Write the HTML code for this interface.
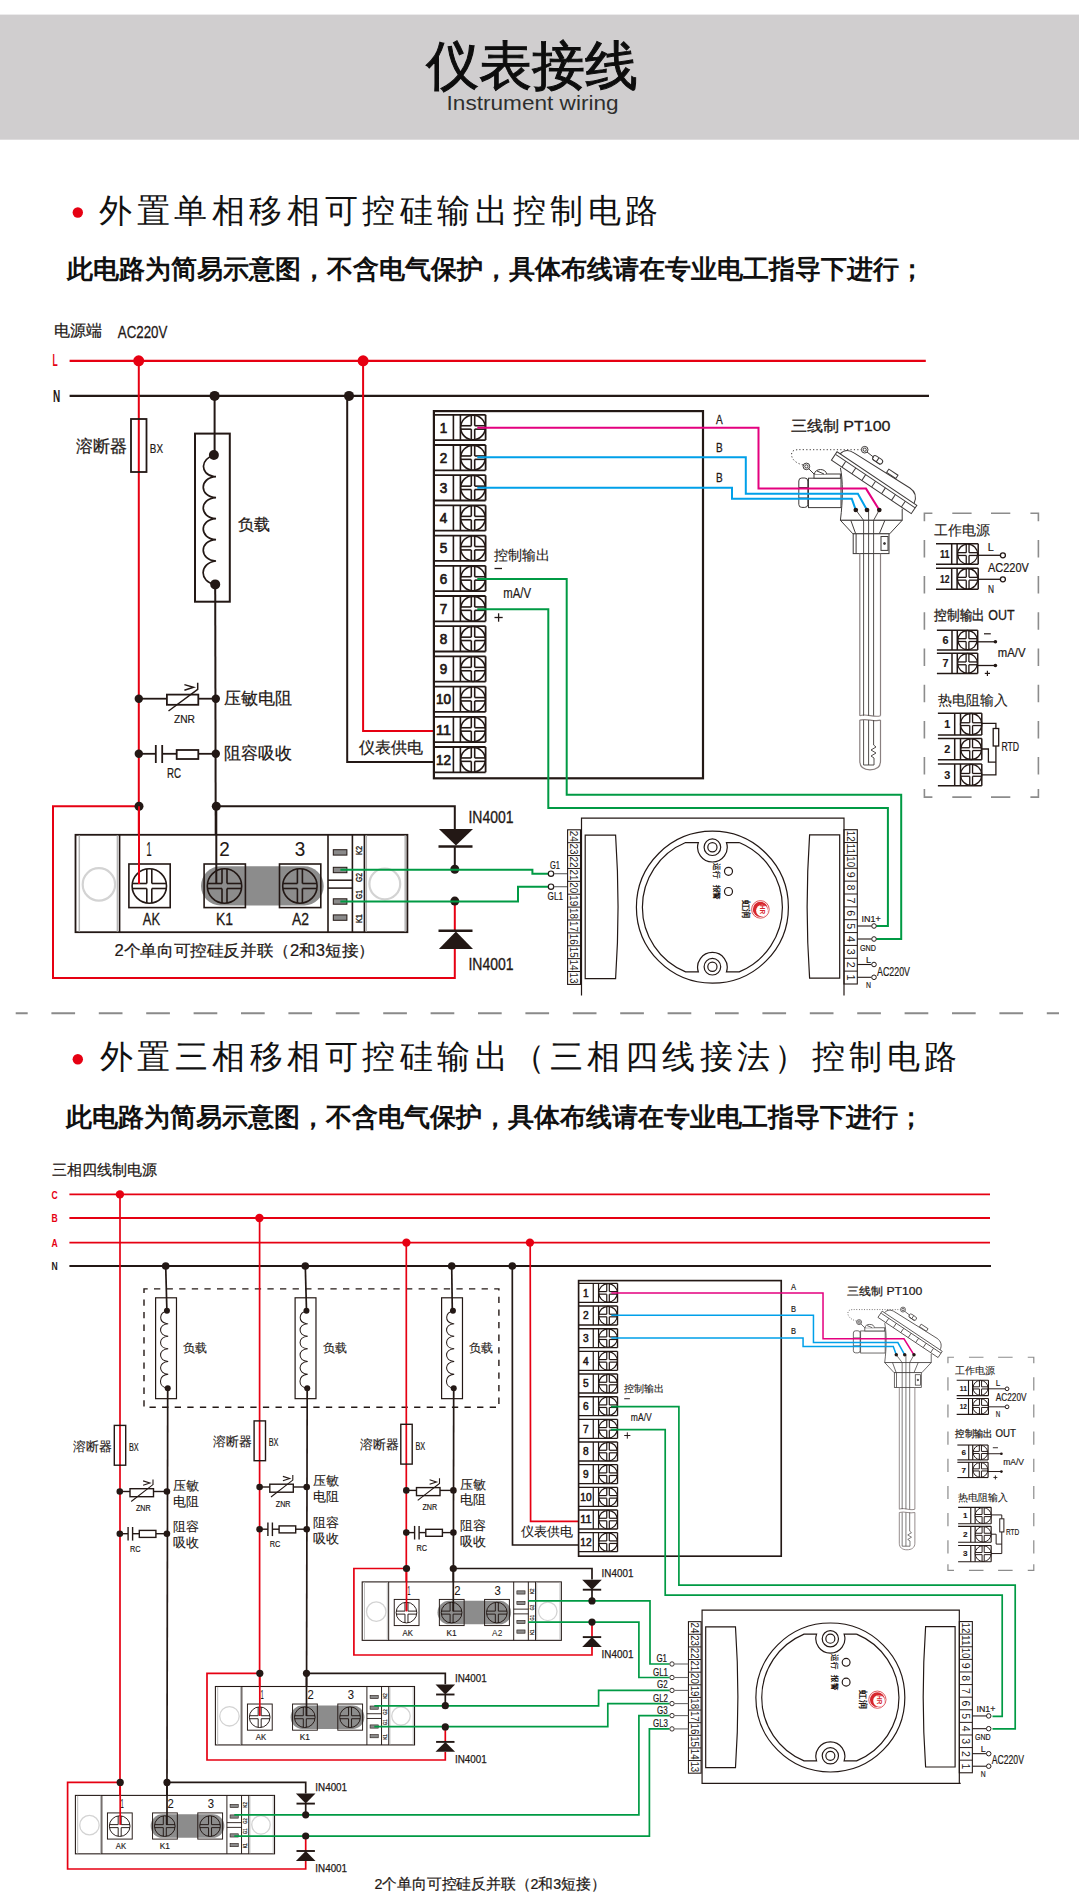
<!DOCTYPE html>
<html><head><meta charset="utf-8"><title>Instrument wiring</title>
<style>html,body{margin:0;padding:0;background:#fff;width:1080px;height:1904px;overflow:hidden}svg{display:block}text{font-family:"Liberation Sans",sans-serif}</style>
</head><body>
<svg width="1080" height="1904" viewBox="0 0 1080 1904" font-family="Liberation Sans, sans-serif">
<defs>
<g id="ctrl">
<rect x="433.90" y="411.10" width="269.10" height="367.20" fill="none" stroke="#231815" stroke-width="2.2" />
<line x1="433.90" y1="414.80" x2="485.60" y2="414.80" stroke="#231815" stroke-width="1.8" />
<line x1="433.90" y1="440.10" x2="485.60" y2="440.10" stroke="#231815" stroke-width="1.8" />
<line x1="453.40" y1="414.80" x2="453.40" y2="440.10" stroke="#231815" stroke-width="1.6" />
<line x1="460.40" y1="414.80" x2="460.40" y2="440.10" stroke="#231815" stroke-width="1.6" />
<line x1="485.60" y1="414.80" x2="485.60" y2="440.10" stroke="#231815" stroke-width="1.8" />
<circle cx="473.00" cy="427.45" r="12.30" fill="#fff" stroke="#231815" stroke-width="1.6"/>
<line x1="471.30" y1="415.27" x2="471.30" y2="425.75" stroke="#231815" stroke-width="1.6" />
<line x1="471.30" y1="429.15" x2="471.30" y2="439.63" stroke="#231815" stroke-width="1.6" />
<line x1="460.82" y1="425.75" x2="471.30" y2="425.75" stroke="#231815" stroke-width="1.6" />
<line x1="474.70" y1="425.75" x2="485.18" y2="425.75" stroke="#231815" stroke-width="1.6" />
<line x1="474.70" y1="415.27" x2="474.70" y2="425.75" stroke="#231815" stroke-width="1.6" />
<line x1="474.70" y1="429.15" x2="474.70" y2="439.63" stroke="#231815" stroke-width="1.6" />
<line x1="460.82" y1="429.15" x2="471.30" y2="429.15" stroke="#231815" stroke-width="1.6" />
<line x1="474.70" y1="429.15" x2="485.18" y2="429.15" stroke="#231815" stroke-width="1.6" />
<text x="443.60" y="432.65" font-size="14.5" fill="#231815" font-weight="normal" text-anchor="middle" textLength="7.50" lengthAdjust="spacingAndGlyphs"  stroke="#231815" stroke-width="0.72">1</text>
<line x1="433.90" y1="445.00" x2="485.60" y2="445.00" stroke="#231815" stroke-width="1.8" />
<line x1="433.90" y1="470.30" x2="485.60" y2="470.30" stroke="#231815" stroke-width="1.8" />
<line x1="453.40" y1="445.00" x2="453.40" y2="470.30" stroke="#231815" stroke-width="1.6" />
<line x1="460.40" y1="445.00" x2="460.40" y2="470.30" stroke="#231815" stroke-width="1.6" />
<line x1="485.60" y1="445.00" x2="485.60" y2="470.30" stroke="#231815" stroke-width="1.8" />
<circle cx="473.00" cy="457.65" r="12.30" fill="#fff" stroke="#231815" stroke-width="1.6"/>
<line x1="471.30" y1="445.47" x2="471.30" y2="455.95" stroke="#231815" stroke-width="1.6" />
<line x1="471.30" y1="459.35" x2="471.30" y2="469.83" stroke="#231815" stroke-width="1.6" />
<line x1="460.82" y1="455.95" x2="471.30" y2="455.95" stroke="#231815" stroke-width="1.6" />
<line x1="474.70" y1="455.95" x2="485.18" y2="455.95" stroke="#231815" stroke-width="1.6" />
<line x1="474.70" y1="445.47" x2="474.70" y2="455.95" stroke="#231815" stroke-width="1.6" />
<line x1="474.70" y1="459.35" x2="474.70" y2="469.83" stroke="#231815" stroke-width="1.6" />
<line x1="460.82" y1="459.35" x2="471.30" y2="459.35" stroke="#231815" stroke-width="1.6" />
<line x1="474.70" y1="459.35" x2="485.18" y2="459.35" stroke="#231815" stroke-width="1.6" />
<text x="443.60" y="462.85" font-size="14.5" fill="#231815" font-weight="normal" text-anchor="middle" textLength="7.50" lengthAdjust="spacingAndGlyphs"  stroke="#231815" stroke-width="0.72">2</text>
<line x1="433.90" y1="475.20" x2="485.60" y2="475.20" stroke="#231815" stroke-width="1.8" />
<line x1="433.90" y1="500.50" x2="485.60" y2="500.50" stroke="#231815" stroke-width="1.8" />
<line x1="453.40" y1="475.20" x2="453.40" y2="500.50" stroke="#231815" stroke-width="1.6" />
<line x1="460.40" y1="475.20" x2="460.40" y2="500.50" stroke="#231815" stroke-width="1.6" />
<line x1="485.60" y1="475.20" x2="485.60" y2="500.50" stroke="#231815" stroke-width="1.8" />
<circle cx="473.00" cy="487.85" r="12.30" fill="#fff" stroke="#231815" stroke-width="1.6"/>
<line x1="471.30" y1="475.67" x2="471.30" y2="486.15" stroke="#231815" stroke-width="1.6" />
<line x1="471.30" y1="489.55" x2="471.30" y2="500.03" stroke="#231815" stroke-width="1.6" />
<line x1="460.82" y1="486.15" x2="471.30" y2="486.15" stroke="#231815" stroke-width="1.6" />
<line x1="474.70" y1="486.15" x2="485.18" y2="486.15" stroke="#231815" stroke-width="1.6" />
<line x1="474.70" y1="475.67" x2="474.70" y2="486.15" stroke="#231815" stroke-width="1.6" />
<line x1="474.70" y1="489.55" x2="474.70" y2="500.03" stroke="#231815" stroke-width="1.6" />
<line x1="460.82" y1="489.55" x2="471.30" y2="489.55" stroke="#231815" stroke-width="1.6" />
<line x1="474.70" y1="489.55" x2="485.18" y2="489.55" stroke="#231815" stroke-width="1.6" />
<text x="443.60" y="493.05" font-size="14.5" fill="#231815" font-weight="normal" text-anchor="middle" textLength="7.50" lengthAdjust="spacingAndGlyphs"  stroke="#231815" stroke-width="0.72">3</text>
<line x1="433.90" y1="505.40" x2="485.60" y2="505.40" stroke="#231815" stroke-width="1.8" />
<line x1="433.90" y1="530.70" x2="485.60" y2="530.70" stroke="#231815" stroke-width="1.8" />
<line x1="453.40" y1="505.40" x2="453.40" y2="530.70" stroke="#231815" stroke-width="1.6" />
<line x1="460.40" y1="505.40" x2="460.40" y2="530.70" stroke="#231815" stroke-width="1.6" />
<line x1="485.60" y1="505.40" x2="485.60" y2="530.70" stroke="#231815" stroke-width="1.8" />
<circle cx="473.00" cy="518.05" r="12.30" fill="#fff" stroke="#231815" stroke-width="1.6"/>
<line x1="471.30" y1="505.87" x2="471.30" y2="516.35" stroke="#231815" stroke-width="1.6" />
<line x1="471.30" y1="519.75" x2="471.30" y2="530.23" stroke="#231815" stroke-width="1.6" />
<line x1="460.82" y1="516.35" x2="471.30" y2="516.35" stroke="#231815" stroke-width="1.6" />
<line x1="474.70" y1="516.35" x2="485.18" y2="516.35" stroke="#231815" stroke-width="1.6" />
<line x1="474.70" y1="505.87" x2="474.70" y2="516.35" stroke="#231815" stroke-width="1.6" />
<line x1="474.70" y1="519.75" x2="474.70" y2="530.23" stroke="#231815" stroke-width="1.6" />
<line x1="460.82" y1="519.75" x2="471.30" y2="519.75" stroke="#231815" stroke-width="1.6" />
<line x1="474.70" y1="519.75" x2="485.18" y2="519.75" stroke="#231815" stroke-width="1.6" />
<text x="443.60" y="523.25" font-size="14.5" fill="#231815" font-weight="normal" text-anchor="middle" textLength="7.50" lengthAdjust="spacingAndGlyphs"  stroke="#231815" stroke-width="0.72">4</text>
<line x1="433.90" y1="535.60" x2="485.60" y2="535.60" stroke="#231815" stroke-width="1.8" />
<line x1="433.90" y1="560.90" x2="485.60" y2="560.90" stroke="#231815" stroke-width="1.8" />
<line x1="453.40" y1="535.60" x2="453.40" y2="560.90" stroke="#231815" stroke-width="1.6" />
<line x1="460.40" y1="535.60" x2="460.40" y2="560.90" stroke="#231815" stroke-width="1.6" />
<line x1="485.60" y1="535.60" x2="485.60" y2="560.90" stroke="#231815" stroke-width="1.8" />
<circle cx="473.00" cy="548.25" r="12.30" fill="#fff" stroke="#231815" stroke-width="1.6"/>
<line x1="471.30" y1="536.07" x2="471.30" y2="546.55" stroke="#231815" stroke-width="1.6" />
<line x1="471.30" y1="549.95" x2="471.30" y2="560.43" stroke="#231815" stroke-width="1.6" />
<line x1="460.82" y1="546.55" x2="471.30" y2="546.55" stroke="#231815" stroke-width="1.6" />
<line x1="474.70" y1="546.55" x2="485.18" y2="546.55" stroke="#231815" stroke-width="1.6" />
<line x1="474.70" y1="536.07" x2="474.70" y2="546.55" stroke="#231815" stroke-width="1.6" />
<line x1="474.70" y1="549.95" x2="474.70" y2="560.43" stroke="#231815" stroke-width="1.6" />
<line x1="460.82" y1="549.95" x2="471.30" y2="549.95" stroke="#231815" stroke-width="1.6" />
<line x1="474.70" y1="549.95" x2="485.18" y2="549.95" stroke="#231815" stroke-width="1.6" />
<text x="443.60" y="553.45" font-size="14.5" fill="#231815" font-weight="normal" text-anchor="middle" textLength="7.50" lengthAdjust="spacingAndGlyphs"  stroke="#231815" stroke-width="0.72">5</text>
<line x1="433.90" y1="565.80" x2="485.60" y2="565.80" stroke="#231815" stroke-width="1.8" />
<line x1="433.90" y1="591.10" x2="485.60" y2="591.10" stroke="#231815" stroke-width="1.8" />
<line x1="453.40" y1="565.80" x2="453.40" y2="591.10" stroke="#231815" stroke-width="1.6" />
<line x1="460.40" y1="565.80" x2="460.40" y2="591.10" stroke="#231815" stroke-width="1.6" />
<line x1="485.60" y1="565.80" x2="485.60" y2="591.10" stroke="#231815" stroke-width="1.8" />
<circle cx="473.00" cy="578.45" r="12.30" fill="#fff" stroke="#231815" stroke-width="1.6"/>
<line x1="471.30" y1="566.27" x2="471.30" y2="576.75" stroke="#231815" stroke-width="1.6" />
<line x1="471.30" y1="580.15" x2="471.30" y2="590.63" stroke="#231815" stroke-width="1.6" />
<line x1="460.82" y1="576.75" x2="471.30" y2="576.75" stroke="#231815" stroke-width="1.6" />
<line x1="474.70" y1="576.75" x2="485.18" y2="576.75" stroke="#231815" stroke-width="1.6" />
<line x1="474.70" y1="566.27" x2="474.70" y2="576.75" stroke="#231815" stroke-width="1.6" />
<line x1="474.70" y1="580.15" x2="474.70" y2="590.63" stroke="#231815" stroke-width="1.6" />
<line x1="460.82" y1="580.15" x2="471.30" y2="580.15" stroke="#231815" stroke-width="1.6" />
<line x1="474.70" y1="580.15" x2="485.18" y2="580.15" stroke="#231815" stroke-width="1.6" />
<text x="443.60" y="583.65" font-size="14.5" fill="#231815" font-weight="normal" text-anchor="middle" textLength="7.50" lengthAdjust="spacingAndGlyphs"  stroke="#231815" stroke-width="0.72">6</text>
<line x1="433.90" y1="596.00" x2="485.60" y2="596.00" stroke="#231815" stroke-width="1.8" />
<line x1="433.90" y1="621.30" x2="485.60" y2="621.30" stroke="#231815" stroke-width="1.8" />
<line x1="453.40" y1="596.00" x2="453.40" y2="621.30" stroke="#231815" stroke-width="1.6" />
<line x1="460.40" y1="596.00" x2="460.40" y2="621.30" stroke="#231815" stroke-width="1.6" />
<line x1="485.60" y1="596.00" x2="485.60" y2="621.30" stroke="#231815" stroke-width="1.8" />
<circle cx="473.00" cy="608.65" r="12.30" fill="#fff" stroke="#231815" stroke-width="1.6"/>
<line x1="471.30" y1="596.47" x2="471.30" y2="606.95" stroke="#231815" stroke-width="1.6" />
<line x1="471.30" y1="610.35" x2="471.30" y2="620.83" stroke="#231815" stroke-width="1.6" />
<line x1="460.82" y1="606.95" x2="471.30" y2="606.95" stroke="#231815" stroke-width="1.6" />
<line x1="474.70" y1="606.95" x2="485.18" y2="606.95" stroke="#231815" stroke-width="1.6" />
<line x1="474.70" y1="596.47" x2="474.70" y2="606.95" stroke="#231815" stroke-width="1.6" />
<line x1="474.70" y1="610.35" x2="474.70" y2="620.83" stroke="#231815" stroke-width="1.6" />
<line x1="460.82" y1="610.35" x2="471.30" y2="610.35" stroke="#231815" stroke-width="1.6" />
<line x1="474.70" y1="610.35" x2="485.18" y2="610.35" stroke="#231815" stroke-width="1.6" />
<text x="443.60" y="613.85" font-size="14.5" fill="#231815" font-weight="normal" text-anchor="middle" textLength="7.50" lengthAdjust="spacingAndGlyphs"  stroke="#231815" stroke-width="0.72">7</text>
<line x1="433.90" y1="626.20" x2="485.60" y2="626.20" stroke="#231815" stroke-width="1.8" />
<line x1="433.90" y1="651.50" x2="485.60" y2="651.50" stroke="#231815" stroke-width="1.8" />
<line x1="453.40" y1="626.20" x2="453.40" y2="651.50" stroke="#231815" stroke-width="1.6" />
<line x1="460.40" y1="626.20" x2="460.40" y2="651.50" stroke="#231815" stroke-width="1.6" />
<line x1="485.60" y1="626.20" x2="485.60" y2="651.50" stroke="#231815" stroke-width="1.8" />
<circle cx="473.00" cy="638.85" r="12.30" fill="#fff" stroke="#231815" stroke-width="1.6"/>
<line x1="471.30" y1="626.67" x2="471.30" y2="637.15" stroke="#231815" stroke-width="1.6" />
<line x1="471.30" y1="640.55" x2="471.30" y2="651.03" stroke="#231815" stroke-width="1.6" />
<line x1="460.82" y1="637.15" x2="471.30" y2="637.15" stroke="#231815" stroke-width="1.6" />
<line x1="474.70" y1="637.15" x2="485.18" y2="637.15" stroke="#231815" stroke-width="1.6" />
<line x1="474.70" y1="626.67" x2="474.70" y2="637.15" stroke="#231815" stroke-width="1.6" />
<line x1="474.70" y1="640.55" x2="474.70" y2="651.03" stroke="#231815" stroke-width="1.6" />
<line x1="460.82" y1="640.55" x2="471.30" y2="640.55" stroke="#231815" stroke-width="1.6" />
<line x1="474.70" y1="640.55" x2="485.18" y2="640.55" stroke="#231815" stroke-width="1.6" />
<text x="443.60" y="644.05" font-size="14.5" fill="#231815" font-weight="normal" text-anchor="middle" textLength="7.50" lengthAdjust="spacingAndGlyphs"  stroke="#231815" stroke-width="0.72">8</text>
<line x1="433.90" y1="656.40" x2="485.60" y2="656.40" stroke="#231815" stroke-width="1.8" />
<line x1="433.90" y1="681.70" x2="485.60" y2="681.70" stroke="#231815" stroke-width="1.8" />
<line x1="453.40" y1="656.40" x2="453.40" y2="681.70" stroke="#231815" stroke-width="1.6" />
<line x1="460.40" y1="656.40" x2="460.40" y2="681.70" stroke="#231815" stroke-width="1.6" />
<line x1="485.60" y1="656.40" x2="485.60" y2="681.70" stroke="#231815" stroke-width="1.8" />
<circle cx="473.00" cy="669.05" r="12.30" fill="#fff" stroke="#231815" stroke-width="1.6"/>
<line x1="471.30" y1="656.87" x2="471.30" y2="667.35" stroke="#231815" stroke-width="1.6" />
<line x1="471.30" y1="670.75" x2="471.30" y2="681.23" stroke="#231815" stroke-width="1.6" />
<line x1="460.82" y1="667.35" x2="471.30" y2="667.35" stroke="#231815" stroke-width="1.6" />
<line x1="474.70" y1="667.35" x2="485.18" y2="667.35" stroke="#231815" stroke-width="1.6" />
<line x1="474.70" y1="656.87" x2="474.70" y2="667.35" stroke="#231815" stroke-width="1.6" />
<line x1="474.70" y1="670.75" x2="474.70" y2="681.23" stroke="#231815" stroke-width="1.6" />
<line x1="460.82" y1="670.75" x2="471.30" y2="670.75" stroke="#231815" stroke-width="1.6" />
<line x1="474.70" y1="670.75" x2="485.18" y2="670.75" stroke="#231815" stroke-width="1.6" />
<text x="443.60" y="674.25" font-size="14.5" fill="#231815" font-weight="normal" text-anchor="middle" textLength="7.50" lengthAdjust="spacingAndGlyphs"  stroke="#231815" stroke-width="0.72">9</text>
<line x1="433.90" y1="686.60" x2="485.60" y2="686.60" stroke="#231815" stroke-width="1.8" />
<line x1="433.90" y1="711.90" x2="485.60" y2="711.90" stroke="#231815" stroke-width="1.8" />
<line x1="453.40" y1="686.60" x2="453.40" y2="711.90" stroke="#231815" stroke-width="1.6" />
<line x1="460.40" y1="686.60" x2="460.40" y2="711.90" stroke="#231815" stroke-width="1.6" />
<line x1="485.60" y1="686.60" x2="485.60" y2="711.90" stroke="#231815" stroke-width="1.8" />
<circle cx="473.00" cy="699.25" r="12.30" fill="#fff" stroke="#231815" stroke-width="1.6"/>
<line x1="471.30" y1="687.07" x2="471.30" y2="697.55" stroke="#231815" stroke-width="1.6" />
<line x1="471.30" y1="700.95" x2="471.30" y2="711.43" stroke="#231815" stroke-width="1.6" />
<line x1="460.82" y1="697.55" x2="471.30" y2="697.55" stroke="#231815" stroke-width="1.6" />
<line x1="474.70" y1="697.55" x2="485.18" y2="697.55" stroke="#231815" stroke-width="1.6" />
<line x1="474.70" y1="687.07" x2="474.70" y2="697.55" stroke="#231815" stroke-width="1.6" />
<line x1="474.70" y1="700.95" x2="474.70" y2="711.43" stroke="#231815" stroke-width="1.6" />
<line x1="460.82" y1="700.95" x2="471.30" y2="700.95" stroke="#231815" stroke-width="1.6" />
<line x1="474.70" y1="700.95" x2="485.18" y2="700.95" stroke="#231815" stroke-width="1.6" />
<text x="443.60" y="704.45" font-size="14.5" fill="#231815" font-weight="normal" text-anchor="middle" textLength="15.00" lengthAdjust="spacingAndGlyphs"  stroke="#231815" stroke-width="0.72">10</text>
<line x1="433.90" y1="716.80" x2="485.60" y2="716.80" stroke="#231815" stroke-width="1.8" />
<line x1="433.90" y1="742.10" x2="485.60" y2="742.10" stroke="#231815" stroke-width="1.8" />
<line x1="453.40" y1="716.80" x2="453.40" y2="742.10" stroke="#231815" stroke-width="1.6" />
<line x1="460.40" y1="716.80" x2="460.40" y2="742.10" stroke="#231815" stroke-width="1.6" />
<line x1="485.60" y1="716.80" x2="485.60" y2="742.10" stroke="#231815" stroke-width="1.8" />
<circle cx="473.00" cy="729.45" r="12.30" fill="#fff" stroke="#231815" stroke-width="1.6"/>
<line x1="471.30" y1="717.27" x2="471.30" y2="727.75" stroke="#231815" stroke-width="1.6" />
<line x1="471.30" y1="731.15" x2="471.30" y2="741.63" stroke="#231815" stroke-width="1.6" />
<line x1="460.82" y1="727.75" x2="471.30" y2="727.75" stroke="#231815" stroke-width="1.6" />
<line x1="474.70" y1="727.75" x2="485.18" y2="727.75" stroke="#231815" stroke-width="1.6" />
<line x1="474.70" y1="717.27" x2="474.70" y2="727.75" stroke="#231815" stroke-width="1.6" />
<line x1="474.70" y1="731.15" x2="474.70" y2="741.63" stroke="#231815" stroke-width="1.6" />
<line x1="460.82" y1="731.15" x2="471.30" y2="731.15" stroke="#231815" stroke-width="1.6" />
<line x1="474.70" y1="731.15" x2="485.18" y2="731.15" stroke="#231815" stroke-width="1.6" />
<text x="443.60" y="734.65" font-size="14.5" fill="#231815" font-weight="normal" text-anchor="middle" textLength="15.00" lengthAdjust="spacingAndGlyphs"  stroke="#231815" stroke-width="0.72">11</text>
<line x1="433.90" y1="747.00" x2="485.60" y2="747.00" stroke="#231815" stroke-width="1.8" />
<line x1="433.90" y1="772.30" x2="485.60" y2="772.30" stroke="#231815" stroke-width="1.8" />
<line x1="453.40" y1="747.00" x2="453.40" y2="772.30" stroke="#231815" stroke-width="1.6" />
<line x1="460.40" y1="747.00" x2="460.40" y2="772.30" stroke="#231815" stroke-width="1.6" />
<line x1="485.60" y1="747.00" x2="485.60" y2="772.30" stroke="#231815" stroke-width="1.8" />
<circle cx="473.00" cy="759.65" r="12.30" fill="#fff" stroke="#231815" stroke-width="1.6"/>
<line x1="471.30" y1="747.47" x2="471.30" y2="757.95" stroke="#231815" stroke-width="1.6" />
<line x1="471.30" y1="761.35" x2="471.30" y2="771.83" stroke="#231815" stroke-width="1.6" />
<line x1="460.82" y1="757.95" x2="471.30" y2="757.95" stroke="#231815" stroke-width="1.6" />
<line x1="474.70" y1="757.95" x2="485.18" y2="757.95" stroke="#231815" stroke-width="1.6" />
<line x1="474.70" y1="747.47" x2="474.70" y2="757.95" stroke="#231815" stroke-width="1.6" />
<line x1="474.70" y1="761.35" x2="474.70" y2="771.83" stroke="#231815" stroke-width="1.6" />
<line x1="460.82" y1="761.35" x2="471.30" y2="761.35" stroke="#231815" stroke-width="1.6" />
<line x1="474.70" y1="761.35" x2="485.18" y2="761.35" stroke="#231815" stroke-width="1.6" />
<text x="443.60" y="764.85" font-size="14.5" fill="#231815" font-weight="normal" text-anchor="middle" textLength="15.00" lengthAdjust="spacingAndGlyphs"  stroke="#231815" stroke-width="0.72">12</text>
<text x="494.30" y="559.80" font-size="13.5" fill="#231815" font-weight="normal" text-anchor="start"  stroke="#231815" stroke-width="0.1">控制输出</text>
<line x1="494.50" y1="568.50" x2="502.00" y2="568.50" stroke="#231815" stroke-width="1.3" />
<text x="503.30" y="598.30" font-size="14.5" fill="#231815" font-weight="normal" text-anchor="start" textLength="27.70" lengthAdjust="spacingAndGlyphs"  stroke="#231815" stroke-width="0.22">mA/V</text>
<line x1="494.50" y1="617.50" x2="502.70" y2="617.50" stroke="#231815" stroke-width="1.3" />
<line x1="498.60" y1="613.30" x2="498.60" y2="621.70" stroke="#231815" stroke-width="1.3" />
<text x="716.00" y="424.30" font-size="12.6" fill="#231815" font-weight="normal" text-anchor="start" textLength="6.70" lengthAdjust="spacingAndGlyphs"  stroke="#231815" stroke-width="0.28">A</text>
<text x="716.00" y="452.30" font-size="12.6" fill="#231815" font-weight="normal" text-anchor="start" textLength="6.70" lengthAdjust="spacingAndGlyphs"  stroke="#231815" stroke-width="0.28">B</text>
<text x="716.00" y="482.30" font-size="12.6" fill="#231815" font-weight="normal" text-anchor="start" textLength="6.70" lengthAdjust="spacingAndGlyphs"  stroke="#231815" stroke-width="0.28">B</text>
<text x="790.60" y="430.90" font-size="15" fill="#231815" font-weight="normal" text-anchor="start" textLength="99.90" lengthAdjust="spacingAndGlyphs"  stroke="#231815" stroke-width="0.3">三线制 PT100</text>
<g fill="none" stroke="#3e3a39" stroke-width="1">
<rect x="808.5" y="478.2" width="32.5" height="29.4" fill="#fff"/>
<rect x="798.8" y="478" width="9" height="29.4" rx="3" fill="#fff"/>
<line x1="799" y1="487.5" x2="808" y2="487.5"/><line x1="799" y1="498" x2="808" y2="498"/>
<rect x="814" y="474" width="26.4" height="4.2" fill="#fff"/>
<path d="M814.5,474 a6,4.5 0 0 1 12,0" fill="#fff"/><line x1="817" y1="471" x2="824" y2="474"/>
<circle cx="806.4" cy="466.4" r="3.3"/><circle cx="806.4" cy="466.4" r="1.6"/><line x1="808.5" y1="468.5" x2="814" y2="474"/>
<path d="M803,465 C795,463 790,458 792,452 C794,449 800,449.7 806,449.7 L861,449.7" stroke-dasharray="1.2 2.2"/>
<path d="M840.4,467.8 C843,480 843,500 840.4,520.3 L902.2,520.3 L902.2,508.8" fill="#fff"/>
<g transform="translate(837.6,452.2) rotate(33.84)">
<path d="M3,0 C4,-6 8,-8.5 14,-8.5 L80,-10.5 C87,-10.5 91,-6 92,0" fill="#fff"/>
<rect x="32" y="-18.5" width="11" height="5" rx="2.5" fill="#fff"/><path d="M33,-13.5 L42,-13.5 M37.5,-18 L37.5,-13.5" />
<rect x="52" y="-14.5" width="11" height="4" fill="#fff"/>
<path d="M-0.7,0 L95.4,0 L95.4,10 L-0.7,10 Z" fill="#fff"/>
<path d="M0,3 L95.4,3"/>
<path d="M11.9,3 L11.9,10"/>
<path d="M23.9,3 L23.9,10"/>
<path d="M35.8,3 L35.8,10"/>
<path d="M47.7,3 L47.7,10"/>
<path d="M59.6,3 L59.6,10"/>
<path d="M71.6,3 L71.6,10"/>
<path d="M83.5,3 L83.5,10"/>
</g>
<circle cx="864.7" cy="449.7" r="3.3"/><circle cx="864.7" cy="449.7" r="1.6"/><line x1="867" y1="452" x2="874" y2="457.5"/>
<path d="M840.4,520.3 L852.9,533.8 L889.7,533.8 L902.2,520.3" fill="#fff"/>
<line x1="850.8" y1="520.3" x2="855.7" y2="533.8"/><line x1="884.9" y1="520.3" x2="879.3" y2="533.8"/>
<rect x="853.2" y="533.8" width="35.8" height="19.8" fill="#fff"/><line x1="856.1" y1="533.8" x2="856.1" y2="553.6"/>
<rect x="881" y="536.5" width="7" height="13.9"/><circle cx="884.5" cy="543.5" r="1" fill="#3e3a39"/>
<line x1="840.4" y1="520.3" x2="902.2" y2="520.3"/>
</g>
<g fill="none" stroke="#8a8080" stroke-width="1.2">
<line x1="859.8" y1="553.6" x2="859.8" y2="715.7"/><line x1="880.5" y1="553.6" x2="880.5" y2="715.7"/>
<path d="M859.8,715.7 C866,713 874,718 880.5,715.7"/>
<path d="M859.8,720.1 C866,718 874,722 880.5,720.1"/>
<path d="M859.8,720.1 L859.8,761 C859.8,767 864,769.8 870,769.8 C876,769.8 880.5,767 880.5,761 L880.5,720.1"/>
</g>
<g fill="none" stroke="#3e3a39" stroke-width="0.9">
<line x1="863.6" y1="520.3" x2="863.6" y2="715.7"/><line x1="868.6" y1="510" x2="868.6" y2="715.7"/><line x1="873.6" y1="520.3" x2="873.6" y2="715.7"/>
<line x1="855.8" y1="510" x2="863.6" y2="520.3"/><line x1="879.3" y1="510" x2="873.6" y2="520.3"/>
<line x1="863.6" y1="720.1" x2="863.6" y2="765"/><line x1="868.6" y1="720.1" x2="868.6" y2="765"/><path d="M863.6,765 L874,765 L874,758 L871,756 L876,753 L871,750 L876,747 L873.6,745 L873.6,720.1"/>
</g>
<polyline points="477.30,427.70 758.50,427.70 758.50,488.60 866.00,488.60 879.30,510.00" fill="none" stroke="#e4007f" stroke-width="2" stroke-linejoin="miter" />
<polyline points="477.30,457.30 745.80,457.30 745.80,493.70 857.90,493.70 867.00,510.00" fill="none" stroke="#00a0e9" stroke-width="2" stroke-linejoin="miter" />
<polyline points="477.30,487.70 732.00,487.70 732.00,498.80 851.80,498.80 855.80,510.00" fill="none" stroke="#00a0e9" stroke-width="2" stroke-linejoin="miter" />
<circle cx="855.80" cy="510.00" r="2.30" fill="#231815"/>
<circle cx="867.00" cy="510.00" r="2.30" fill="#231815"/>
<circle cx="879.30" cy="510.00" r="2.30" fill="#231815"/>
<g fill="none" stroke="#8c8c8c" stroke-width="1.6">
<path d="M924.4,521.2 L924.4,513.2 L932.4,513.2 M1030.4,513.2 L1038.4,513.2 L1038.4,521.2 M924.4,789.1 L924.4,797.1 L932.4,797.1 M1030.4,797.1 L1038.4,797.1 L1038.4,789.1"/>
<path d="M952.3,513.2 L971.6,513.2 M991,513.2 L1010.3,513.2 M952.3,797.1 L971.6,797.1 M991,797.1 L1010.3,797.1"/>
<path d="M924.4,539.9 L924.4,557.4 M1038.4,539.9 L1038.4,557.4 M924.4,576.1 L924.4,593.6 M1038.4,576.1 L1038.4,593.6 M924.4,612.3 L924.4,629.8 M1038.4,612.3 L1038.4,629.8 M924.4,648.5 L924.4,666.0 M1038.4,648.5 L1038.4,666.0 M924.4,684.7 L924.4,702.2 M1038.4,684.7 L1038.4,702.2 M924.4,720.9 L924.4,738.4 M1038.4,720.9 L1038.4,738.4 M924.4,757.1 L924.4,774.6 M1038.4,757.1 L1038.4,774.6"/>
</g>
<text x="934.30" y="535.20" font-size="13.8" fill="#231815" font-weight="normal" text-anchor="start"  stroke="#231815" stroke-width="0.1">工作电源</text>
<line x1="936.00" y1="543.80" x2="978.20" y2="543.80" stroke="#231815" stroke-width="1.5" />
<line x1="936.00" y1="564.30" x2="978.20" y2="564.30" stroke="#231815" stroke-width="1.5" />
<line x1="951.70" y1="543.80" x2="951.70" y2="564.30" stroke="#231815" stroke-width="1.5" />
<line x1="957.10" y1="543.80" x2="957.10" y2="564.30" stroke="#231815" stroke-width="1.5" />
<line x1="978.20" y1="543.80" x2="978.20" y2="564.30" stroke="#231815" stroke-width="1.5" />
<circle cx="967.65" cy="554.05" r="9.95" fill="#fff" stroke="#231815" stroke-width="1.3"/>
<line x1="966.25" y1="544.20" x2="966.25" y2="552.65" stroke="#231815" stroke-width="1.3" />
<line x1="966.25" y1="555.45" x2="966.25" y2="563.90" stroke="#231815" stroke-width="1.3" />
<line x1="957.80" y1="552.65" x2="966.25" y2="552.65" stroke="#231815" stroke-width="1.3" />
<line x1="969.05" y1="552.65" x2="977.50" y2="552.65" stroke="#231815" stroke-width="1.3" />
<line x1="969.05" y1="544.20" x2="969.05" y2="552.65" stroke="#231815" stroke-width="1.3" />
<line x1="969.05" y1="555.45" x2="969.05" y2="563.90" stroke="#231815" stroke-width="1.3" />
<line x1="957.80" y1="555.45" x2="966.25" y2="555.45" stroke="#231815" stroke-width="1.3" />
<line x1="969.05" y1="555.45" x2="977.50" y2="555.45" stroke="#231815" stroke-width="1.3" />
<text x="944.85" y="557.85" font-size="10.8" fill="#231815" font-weight="bold" text-anchor="middle" textLength="9.60" lengthAdjust="spacingAndGlyphs"  stroke="#231815" stroke-width="0.17">11</text>
<line x1="936.00" y1="568.20" x2="978.20" y2="568.20" stroke="#231815" stroke-width="1.5" />
<line x1="936.00" y1="589.30" x2="978.20" y2="589.30" stroke="#231815" stroke-width="1.5" />
<line x1="951.70" y1="568.20" x2="951.70" y2="589.30" stroke="#231815" stroke-width="1.5" />
<line x1="957.10" y1="568.20" x2="957.10" y2="589.30" stroke="#231815" stroke-width="1.5" />
<line x1="978.20" y1="568.20" x2="978.20" y2="589.30" stroke="#231815" stroke-width="1.5" />
<circle cx="967.65" cy="578.75" r="10.25" fill="#fff" stroke="#231815" stroke-width="1.3"/>
<line x1="966.25" y1="568.60" x2="966.25" y2="577.35" stroke="#231815" stroke-width="1.3" />
<line x1="966.25" y1="580.15" x2="966.25" y2="588.90" stroke="#231815" stroke-width="1.3" />
<line x1="957.50" y1="577.35" x2="966.25" y2="577.35" stroke="#231815" stroke-width="1.3" />
<line x1="969.05" y1="577.35" x2="977.80" y2="577.35" stroke="#231815" stroke-width="1.3" />
<line x1="969.05" y1="568.60" x2="969.05" y2="577.35" stroke="#231815" stroke-width="1.3" />
<line x1="969.05" y1="580.15" x2="969.05" y2="588.90" stroke="#231815" stroke-width="1.3" />
<line x1="957.50" y1="580.15" x2="966.25" y2="580.15" stroke="#231815" stroke-width="1.3" />
<line x1="969.05" y1="580.15" x2="977.80" y2="580.15" stroke="#231815" stroke-width="1.3" />
<text x="944.85" y="582.55" font-size="10.8" fill="#231815" font-weight="bold" text-anchor="middle" textLength="9.60" lengthAdjust="spacingAndGlyphs"  stroke="#231815" stroke-width="0.17">12</text>
<line x1="978.20" y1="555.30" x2="1000.40" y2="555.30" stroke="#231815" stroke-width="1.3" />
<circle cx="1002.90" cy="555.30" r="2.50" fill="#fff" stroke="#231815" stroke-width="1.3"/>
<line x1="978.20" y1="579.30" x2="1000.40" y2="579.30" stroke="#231815" stroke-width="1.3" />
<circle cx="1002.90" cy="579.30" r="2.50" fill="#fff" stroke="#231815" stroke-width="1.3"/>
<text x="987.80" y="551.30" font-size="11.6" fill="#231815" font-weight="normal" text-anchor="start" textLength="6.00" lengthAdjust="spacingAndGlyphs"  stroke="#231815" stroke-width="0.22">L</text>
<text x="988.00" y="571.80" font-size="13.5" fill="#231815" font-weight="normal" text-anchor="start" textLength="40.80" lengthAdjust="spacingAndGlyphs"  stroke="#231815" stroke-width="0.22">AC220V</text>
<text x="988.00" y="592.60" font-size="11.6" fill="#231815" font-weight="normal" text-anchor="start" textLength="6.00" lengthAdjust="spacingAndGlyphs"  stroke="#231815" stroke-width="0.22">N</text>
<text x="934.30" y="620.10" font-size="13.8" fill="#231815" font-weight="normal" text-anchor="start" textLength="80.40" lengthAdjust="spacingAndGlyphs"  stroke="#231815" stroke-width="0.3">控制输出 OUT</text>
<line x1="936.90" y1="630.20" x2="977.70" y2="630.20" stroke="#231815" stroke-width="1.5" />
<line x1="936.90" y1="650.00" x2="977.70" y2="650.00" stroke="#231815" stroke-width="1.5" />
<line x1="952.00" y1="630.20" x2="952.00" y2="650.00" stroke="#231815" stroke-width="1.5" />
<line x1="957.30" y1="630.20" x2="957.30" y2="650.00" stroke="#231815" stroke-width="1.5" />
<line x1="977.70" y1="630.20" x2="977.70" y2="650.00" stroke="#231815" stroke-width="1.5" />
<circle cx="967.50" cy="640.10" r="9.60" fill="#fff" stroke="#231815" stroke-width="1.3"/>
<line x1="966.10" y1="630.60" x2="966.10" y2="638.70" stroke="#231815" stroke-width="1.3" />
<line x1="966.10" y1="641.50" x2="966.10" y2="649.60" stroke="#231815" stroke-width="1.3" />
<line x1="958.00" y1="638.70" x2="966.10" y2="638.70" stroke="#231815" stroke-width="1.3" />
<line x1="968.90" y1="638.70" x2="977.00" y2="638.70" stroke="#231815" stroke-width="1.3" />
<line x1="968.90" y1="630.60" x2="968.90" y2="638.70" stroke="#231815" stroke-width="1.3" />
<line x1="968.90" y1="641.50" x2="968.90" y2="649.60" stroke="#231815" stroke-width="1.3" />
<line x1="958.00" y1="641.50" x2="966.10" y2="641.50" stroke="#231815" stroke-width="1.3" />
<line x1="968.90" y1="641.50" x2="977.00" y2="641.50" stroke="#231815" stroke-width="1.3" />
<text x="945.45" y="643.90" font-size="10.8" fill="#231815" font-weight="bold" text-anchor="middle"  stroke="#231815" stroke-width="0.17">6</text>
<line x1="936.90" y1="653.20" x2="977.70" y2="653.20" stroke="#231815" stroke-width="1.5" />
<line x1="936.90" y1="673.50" x2="977.70" y2="673.50" stroke="#231815" stroke-width="1.5" />
<line x1="952.00" y1="653.20" x2="952.00" y2="673.50" stroke="#231815" stroke-width="1.5" />
<line x1="957.30" y1="653.20" x2="957.30" y2="673.50" stroke="#231815" stroke-width="1.5" />
<line x1="977.70" y1="653.20" x2="977.70" y2="673.50" stroke="#231815" stroke-width="1.5" />
<circle cx="967.50" cy="663.35" r="9.85" fill="#fff" stroke="#231815" stroke-width="1.3"/>
<line x1="966.10" y1="653.60" x2="966.10" y2="661.95" stroke="#231815" stroke-width="1.3" />
<line x1="966.10" y1="664.75" x2="966.10" y2="673.10" stroke="#231815" stroke-width="1.3" />
<line x1="957.75" y1="661.95" x2="966.10" y2="661.95" stroke="#231815" stroke-width="1.3" />
<line x1="968.90" y1="661.95" x2="977.25" y2="661.95" stroke="#231815" stroke-width="1.3" />
<line x1="968.90" y1="653.60" x2="968.90" y2="661.95" stroke="#231815" stroke-width="1.3" />
<line x1="968.90" y1="664.75" x2="968.90" y2="673.10" stroke="#231815" stroke-width="1.3" />
<line x1="957.75" y1="664.75" x2="966.10" y2="664.75" stroke="#231815" stroke-width="1.3" />
<line x1="968.90" y1="664.75" x2="977.25" y2="664.75" stroke="#231815" stroke-width="1.3" />
<text x="945.45" y="667.15" font-size="10.8" fill="#231815" font-weight="bold" text-anchor="middle"  stroke="#231815" stroke-width="0.17">7</text>
<line x1="977.70" y1="641.80" x2="995.40" y2="641.80" stroke="#231815" stroke-width="1.3" />
<circle cx="995.40" cy="641.80" r="1.80" fill="#231815"/>
<line x1="977.70" y1="665.50" x2="995.40" y2="665.50" stroke="#231815" stroke-width="1.3" />
<circle cx="995.40" cy="665.50" r="1.80" fill="#231815"/>
<line x1="984.00" y1="633.80" x2="990.80" y2="633.80" stroke="#231815" stroke-width="1.2" />
<line x1="984.80" y1="673.40" x2="990.00" y2="673.40" stroke="#231815" stroke-width="1.2" />
<line x1="987.40" y1="670.70" x2="987.40" y2="676.10" stroke="#231815" stroke-width="1.2" />
<text x="997.80" y="656.90" font-size="12.4" fill="#231815" font-weight="normal" text-anchor="start" textLength="27.70" lengthAdjust="spacingAndGlyphs"  stroke="#231815" stroke-width="0.22">mA/V</text>
<text x="937.90" y="704.50" font-size="13.8" fill="#231815" font-weight="normal" text-anchor="start"  stroke="#231815" stroke-width="0.1">热电阻输入</text>
<line x1="937.90" y1="713.20" x2="981.80" y2="713.20" stroke="#231815" stroke-width="1.5" />
<line x1="937.90" y1="735.10" x2="981.80" y2="735.10" stroke="#231815" stroke-width="1.5" />
<line x1="954.70" y1="713.20" x2="954.70" y2="735.10" stroke="#231815" stroke-width="1.5" />
<line x1="960.50" y1="713.20" x2="960.50" y2="735.10" stroke="#231815" stroke-width="1.5" />
<line x1="981.80" y1="713.20" x2="981.80" y2="735.10" stroke="#231815" stroke-width="1.5" />
<circle cx="971.15" cy="724.15" r="10.65" fill="#fff" stroke="#231815" stroke-width="1.3"/>
<line x1="969.75" y1="713.59" x2="969.75" y2="722.75" stroke="#231815" stroke-width="1.3" />
<line x1="969.75" y1="725.55" x2="969.75" y2="734.71" stroke="#231815" stroke-width="1.3" />
<line x1="960.59" y1="722.75" x2="969.75" y2="722.75" stroke="#231815" stroke-width="1.3" />
<line x1="972.55" y1="722.75" x2="981.71" y2="722.75" stroke="#231815" stroke-width="1.3" />
<line x1="972.55" y1="713.59" x2="972.55" y2="722.75" stroke="#231815" stroke-width="1.3" />
<line x1="972.55" y1="725.55" x2="972.55" y2="734.71" stroke="#231815" stroke-width="1.3" />
<line x1="960.59" y1="725.55" x2="969.75" y2="725.55" stroke="#231815" stroke-width="1.3" />
<line x1="972.55" y1="725.55" x2="981.71" y2="725.55" stroke="#231815" stroke-width="1.3" />
<text x="947.30" y="727.95" font-size="10.8" fill="#231815" font-weight="bold" text-anchor="middle"  stroke="#231815" stroke-width="0.17">1</text>
<line x1="937.90" y1="738.50" x2="981.80" y2="738.50" stroke="#231815" stroke-width="1.5" />
<line x1="937.90" y1="759.80" x2="981.80" y2="759.80" stroke="#231815" stroke-width="1.5" />
<line x1="954.70" y1="738.50" x2="954.70" y2="759.80" stroke="#231815" stroke-width="1.5" />
<line x1="960.50" y1="738.50" x2="960.50" y2="759.80" stroke="#231815" stroke-width="1.5" />
<line x1="981.80" y1="738.50" x2="981.80" y2="759.80" stroke="#231815" stroke-width="1.5" />
<circle cx="971.15" cy="749.15" r="10.35" fill="#fff" stroke="#231815" stroke-width="1.3"/>
<line x1="969.75" y1="738.90" x2="969.75" y2="747.75" stroke="#231815" stroke-width="1.3" />
<line x1="969.75" y1="750.55" x2="969.75" y2="759.40" stroke="#231815" stroke-width="1.3" />
<line x1="960.90" y1="747.75" x2="969.75" y2="747.75" stroke="#231815" stroke-width="1.3" />
<line x1="972.55" y1="747.75" x2="981.40" y2="747.75" stroke="#231815" stroke-width="1.3" />
<line x1="972.55" y1="738.90" x2="972.55" y2="747.75" stroke="#231815" stroke-width="1.3" />
<line x1="972.55" y1="750.55" x2="972.55" y2="759.40" stroke="#231815" stroke-width="1.3" />
<line x1="960.90" y1="750.55" x2="969.75" y2="750.55" stroke="#231815" stroke-width="1.3" />
<line x1="972.55" y1="750.55" x2="981.40" y2="750.55" stroke="#231815" stroke-width="1.3" />
<text x="947.30" y="752.95" font-size="10.8" fill="#231815" font-weight="bold" text-anchor="middle"  stroke="#231815" stroke-width="0.17">2</text>
<line x1="937.90" y1="764.00" x2="981.80" y2="764.00" stroke="#231815" stroke-width="1.5" />
<line x1="937.90" y1="785.70" x2="981.80" y2="785.70" stroke="#231815" stroke-width="1.5" />
<line x1="954.70" y1="764.00" x2="954.70" y2="785.70" stroke="#231815" stroke-width="1.5" />
<line x1="960.50" y1="764.00" x2="960.50" y2="785.70" stroke="#231815" stroke-width="1.5" />
<line x1="981.80" y1="764.00" x2="981.80" y2="785.70" stroke="#231815" stroke-width="1.5" />
<circle cx="971.15" cy="774.85" r="10.55" fill="#fff" stroke="#231815" stroke-width="1.3"/>
<line x1="969.75" y1="764.39" x2="969.75" y2="773.45" stroke="#231815" stroke-width="1.3" />
<line x1="969.75" y1="776.25" x2="969.75" y2="785.31" stroke="#231815" stroke-width="1.3" />
<line x1="960.69" y1="773.45" x2="969.75" y2="773.45" stroke="#231815" stroke-width="1.3" />
<line x1="972.55" y1="773.45" x2="981.61" y2="773.45" stroke="#231815" stroke-width="1.3" />
<line x1="972.55" y1="764.39" x2="972.55" y2="773.45" stroke="#231815" stroke-width="1.3" />
<line x1="972.55" y1="776.25" x2="972.55" y2="785.31" stroke="#231815" stroke-width="1.3" />
<line x1="960.69" y1="776.25" x2="969.75" y2="776.25" stroke="#231815" stroke-width="1.3" />
<line x1="972.55" y1="776.25" x2="981.61" y2="776.25" stroke="#231815" stroke-width="1.3" />
<text x="947.30" y="778.65" font-size="10.8" fill="#231815" font-weight="bold" text-anchor="middle"  stroke="#231815" stroke-width="0.17">3</text>
<polyline points="981.80,723.30 995.90,723.30 995.90,728.50" fill="none" stroke="#231815" stroke-width="1.3" stroke-linejoin="miter" />
<rect x="993.20" y="728.50" width="5.50" height="17.50" fill="#fff" stroke="#231815" stroke-width="1.3" />
<polyline points="995.90,746.00 995.90,774.80 981.80,774.80" fill="none" stroke="#231815" stroke-width="1.3" stroke-linejoin="miter" />
<polyline points="981.80,749.00 988.40,749.00 988.40,762.20 995.90,762.20" fill="none" stroke="#231815" stroke-width="1.3" stroke-linejoin="miter" />
<text x="1001.40" y="750.50" font-size="12" fill="#231815" font-weight="normal" text-anchor="start" textLength="17.70" lengthAdjust="spacingAndGlyphs"  stroke="#231815" stroke-width="0.22">RTD</text>
</g>
<g id="scr">
<rect x="75.50" y="834.80" width="331.90" height="97.40" fill="#fff" stroke="#231815" stroke-width="1.8" />
<line x1="79.30" y1="835.50" x2="79.30" y2="931.50" stroke="#b5b5b5" stroke-width="1.5" />
<line x1="117.40" y1="835.50" x2="117.40" y2="931.50" stroke="#b5b5b5" stroke-width="1.5" />
<line x1="119.60" y1="834.80" x2="119.60" y2="932.20" stroke="#231815" stroke-width="1.6" />
<circle cx="98.90" cy="884.40" r="16.20" fill="none" stroke="#d3d3d3" stroke-width="2.2"/>
<line x1="364.40" y1="834.80" x2="364.40" y2="932.20" stroke="#231815" stroke-width="1.6" />
<line x1="366.30" y1="835.50" x2="366.30" y2="931.50" stroke="#b5b5b5" stroke-width="1.5" />
<line x1="405.20" y1="835.50" x2="405.20" y2="931.50" stroke="#b5b5b5" stroke-width="1.5" />
<circle cx="384.80" cy="883.90" r="15.40" fill="none" stroke="#d3d3d3" stroke-width="2.2"/>
<line x1="328.00" y1="834.80" x2="328.00" y2="932.20" stroke="#231815" stroke-width="1.6" />
<line x1="352.40" y1="834.80" x2="352.40" y2="932.20" stroke="#231815" stroke-width="1.6" />
<line x1="328.00" y1="880.20" x2="352.40" y2="880.20" stroke="#231815" stroke-width="1.5" />
<line x1="328.00" y1="888.10" x2="352.40" y2="888.10" stroke="#231815" stroke-width="1.5" />
<rect x="333.30" y="849.70" width="13.60" height="5.40" fill="#8a8a8a" stroke="#231815" stroke-width="1" />
<rect x="333.30" y="867.30" width="13.60" height="5.40" fill="#8a8a8a" stroke="#231815" stroke-width="1" />
<rect x="333.30" y="898.80" width="13.60" height="5.40" fill="#8a8a8a" stroke="#231815" stroke-width="1" />
<rect x="333.30" y="914.90" width="13.60" height="5.40" fill="#8a8a8a" stroke="#231815" stroke-width="1" />
<text x="0" y="0" font-size="9" fill="#231815" stroke="#231815" stroke-width="0.35" text-anchor="middle" textLength="9" lengthAdjust="spacingAndGlyphs" transform="translate(362.3,850.5) rotate(-90)">K2</text>
<text x="0" y="0" font-size="9" fill="#231815" stroke="#231815" stroke-width="0.35" text-anchor="middle" textLength="9" lengthAdjust="spacingAndGlyphs" transform="translate(362.3,877.4) rotate(-90)">G2</text>
<text x="0" y="0" font-size="9" fill="#231815" stroke="#231815" stroke-width="0.35" text-anchor="middle" textLength="9" lengthAdjust="spacingAndGlyphs" transform="translate(362.3,894.5) rotate(-90)">G1</text>
<text x="0" y="0" font-size="9" fill="#231815" stroke="#231815" stroke-width="0.35" text-anchor="middle" textLength="9" lengthAdjust="spacingAndGlyphs" transform="translate(362.3,918.6) rotate(-90)">K1</text>
<rect x="201" y="866.3" width="122.7" height="39.2" rx="19.6" fill="#8c8c8c"/>
<rect x="128.90" y="864.00" width="41.30" height="43.60" fill="none" stroke="#231815" stroke-width="1.6" />
<circle cx="149.30" cy="886.00" r="17.20" fill="#fff" stroke="#231815" stroke-width="1.6"/>
<line x1="146.80" y1="868.98" x2="146.80" y2="883.50" stroke="#231815" stroke-width="1.6" />
<line x1="146.80" y1="888.50" x2="146.80" y2="903.02" stroke="#231815" stroke-width="1.6" />
<line x1="132.28" y1="883.50" x2="146.80" y2="883.50" stroke="#231815" stroke-width="1.6" />
<line x1="151.80" y1="883.50" x2="166.32" y2="883.50" stroke="#231815" stroke-width="1.6" />
<line x1="151.80" y1="868.98" x2="151.80" y2="883.50" stroke="#231815" stroke-width="1.6" />
<line x1="151.80" y1="888.50" x2="151.80" y2="903.02" stroke="#231815" stroke-width="1.6" />
<line x1="132.28" y1="888.50" x2="146.80" y2="888.50" stroke="#231815" stroke-width="1.6" />
<line x1="151.80" y1="888.50" x2="166.32" y2="888.50" stroke="#231815" stroke-width="1.6" />
<rect x="204.10" y="864.00" width="41.30" height="43.60" fill="none" stroke="#231815" stroke-width="1.6" />
<circle cx="224.50" cy="886.00" r="17.20" fill="#8c8c8c" stroke="#231815" stroke-width="1.6"/>
<line x1="222.00" y1="868.98" x2="222.00" y2="883.50" stroke="#231815" stroke-width="1.6" />
<line x1="222.00" y1="888.50" x2="222.00" y2="903.02" stroke="#231815" stroke-width="1.6" />
<line x1="207.48" y1="883.50" x2="222.00" y2="883.50" stroke="#231815" stroke-width="1.6" />
<line x1="227.00" y1="883.50" x2="241.52" y2="883.50" stroke="#231815" stroke-width="1.6" />
<line x1="227.00" y1="868.98" x2="227.00" y2="883.50" stroke="#231815" stroke-width="1.6" />
<line x1="227.00" y1="888.50" x2="227.00" y2="903.02" stroke="#231815" stroke-width="1.6" />
<line x1="207.48" y1="888.50" x2="222.00" y2="888.50" stroke="#231815" stroke-width="1.6" />
<line x1="227.00" y1="888.50" x2="241.52" y2="888.50" stroke="#231815" stroke-width="1.6" />
<rect x="279.50" y="864.00" width="41.30" height="43.60" fill="none" stroke="#231815" stroke-width="1.6" />
<circle cx="299.90" cy="886.00" r="17.20" fill="#8c8c8c" stroke="#231815" stroke-width="1.6"/>
<line x1="297.40" y1="868.98" x2="297.40" y2="883.50" stroke="#231815" stroke-width="1.6" />
<line x1="297.40" y1="888.50" x2="297.40" y2="903.02" stroke="#231815" stroke-width="1.6" />
<line x1="282.88" y1="883.50" x2="297.40" y2="883.50" stroke="#231815" stroke-width="1.6" />
<line x1="302.40" y1="883.50" x2="316.92" y2="883.50" stroke="#231815" stroke-width="1.6" />
<line x1="302.40" y1="868.98" x2="302.40" y2="883.50" stroke="#231815" stroke-width="1.6" />
<line x1="302.40" y1="888.50" x2="302.40" y2="903.02" stroke="#231815" stroke-width="1.6" />
<line x1="282.88" y1="888.50" x2="297.40" y2="888.50" stroke="#231815" stroke-width="1.6" />
<line x1="302.40" y1="888.50" x2="316.92" y2="888.50" stroke="#231815" stroke-width="1.6" />
<text x="151.40" y="924.80" font-size="16" fill="#231815" font-weight="normal" text-anchor="middle" textLength="17.20" lengthAdjust="spacingAndGlyphs"  stroke="#231815" stroke-width="0.28">AK</text>
<text x="224.50" y="924.80" font-size="16" fill="#231815" font-weight="normal" text-anchor="middle" textLength="17.00" lengthAdjust="spacingAndGlyphs"  stroke="#231815" stroke-width="0.28">K1</text>
</g>
<g id="load">
<rect x="195.00" y="433.60" width="34.80" height="168.10" fill="none" stroke="#231815" stroke-width="2" />
<path d="M214,455.5 C201,458 199,474 214,476.7 L216,476.7 C199,477.7 199,496.6 216,497.6 L216,497.6 C199,498.6 199,517.6 216,518.6 L216,518.6 C199,519.6 199,538.6 216,539.6 L216,539.6 C199,540.6 199,560.0 216,561.0 L216,561 C199,563 199,582 215,584.4" fill="none" stroke="#231815" stroke-width="1.7"/>
<circle cx="213.90" cy="455.00" r="5.00" fill="#231815"/>
<circle cx="215.20" cy="584.40" r="5.00" fill="#231815"/>
</g>
<g id="rc">
<g fill="none" stroke="#231815" stroke-width="1.2">
<path d="M581.5,995.5 L581.5,818.1 L844,818.1 L844,995.5"/>
<path d="M585.2,835.2 L615.6,835.2 Q620.5,907 615.6,978.7 L585.2,978.7 Z"/>
<path d="M839.7,834.9 L809.6,834.9 Q804.7,907 809.6,978.1 L839.7,978.1 Z"/>
<circle cx="712.4" cy="907.2" r="76"/>
<path d="M739.20,842.53 L726.45,842.53 A14.8,14.8 0 1 1 698.35,842.53 L685.60,842.53 A70,70 0 0 0 685.60,971.87 L698.35,971.87 A14.8,14.8 0 1 1 726.45,971.87 L739.20,971.87 A70,70 0 0 0 739.20,842.53"/>
<circle cx="712.4" cy="847.2" r="8.3"/><circle cx="712.4" cy="847.2" r="4.6"/>
<circle cx="712.4" cy="966.7" r="8.3"/><circle cx="712.4" cy="966.7" r="4.6"/>
<circle cx="728.5" cy="871.3" r="4"/><circle cx="728.5" cy="891.5" r="4"/>
</g>
<g fill="none" stroke="#231815" stroke-width="1">
<rect x="567.60" y="829.80" width="12.90" height="154.60" fill="none" stroke="#231815" stroke-width="1.1" />
<rect x="844.00" y="829.70" width="13.30" height="154.30" fill="none" stroke="#231815" stroke-width="1.1" />
</g>
<text x="0" y="0" font-size="11.5" fill="#231815" text-anchor="middle" textLength="11" lengthAdjust="spacingAndGlyphs" transform="translate(570,836.24) rotate(90)">24</text>
<text x="0" y="0" font-size="11.5" fill="#231815" text-anchor="middle" textLength="11" lengthAdjust="spacingAndGlyphs" transform="translate(846.5,836.14) rotate(90)">12</text>
<line x1="567.60" y1="842.68" x2="580.50" y2="842.68" stroke="#231815" stroke-width="1" />
<text x="0" y="0" font-size="11.5" fill="#231815" text-anchor="middle" textLength="11" lengthAdjust="spacingAndGlyphs" transform="translate(570,849.12) rotate(90)">23</text>
<line x1="844.00" y1="842.56" x2="857.30" y2="842.56" stroke="#231815" stroke-width="1" />
<text x="0" y="0" font-size="11.5" fill="#231815" text-anchor="middle" textLength="11" lengthAdjust="spacingAndGlyphs" transform="translate(846.5,849.00) rotate(90)">11</text>
<line x1="567.60" y1="855.57" x2="580.50" y2="855.57" stroke="#231815" stroke-width="1" />
<text x="0" y="0" font-size="11.5" fill="#231815" text-anchor="middle" textLength="11" lengthAdjust="spacingAndGlyphs" transform="translate(570,862.01) rotate(90)">22</text>
<line x1="844.00" y1="855.42" x2="857.30" y2="855.42" stroke="#231815" stroke-width="1" />
<text x="0" y="0" font-size="11.5" fill="#231815" text-anchor="middle" textLength="11" lengthAdjust="spacingAndGlyphs" transform="translate(846.5,861.86) rotate(90)">10</text>
<line x1="567.60" y1="868.45" x2="580.50" y2="868.45" stroke="#231815" stroke-width="1" />
<text x="0" y="0" font-size="11.5" fill="#231815" text-anchor="middle" textLength="11" lengthAdjust="spacingAndGlyphs" transform="translate(570,874.89) rotate(90)">21</text>
<line x1="844.00" y1="868.28" x2="857.30" y2="868.28" stroke="#231815" stroke-width="1" />
<text x="0" y="0" font-size="11.5" fill="#231815" text-anchor="middle" textLength="6" lengthAdjust="spacingAndGlyphs" transform="translate(846.5,874.72) rotate(90)">9</text>
<line x1="567.60" y1="881.33" x2="580.50" y2="881.33" stroke="#231815" stroke-width="1" />
<text x="0" y="0" font-size="11.5" fill="#231815" text-anchor="middle" textLength="11" lengthAdjust="spacingAndGlyphs" transform="translate(570,887.77) rotate(90)">20</text>
<line x1="844.00" y1="881.13" x2="857.30" y2="881.13" stroke="#231815" stroke-width="1" />
<text x="0" y="0" font-size="11.5" fill="#231815" text-anchor="middle" textLength="6" lengthAdjust="spacingAndGlyphs" transform="translate(846.5,887.58) rotate(90)">8</text>
<line x1="567.60" y1="894.22" x2="580.50" y2="894.22" stroke="#231815" stroke-width="1" />
<text x="0" y="0" font-size="11.5" fill="#231815" text-anchor="middle" textLength="11" lengthAdjust="spacingAndGlyphs" transform="translate(570,900.66) rotate(90)">19</text>
<line x1="844.00" y1="893.99" x2="857.30" y2="893.99" stroke="#231815" stroke-width="1" />
<text x="0" y="0" font-size="11.5" fill="#231815" text-anchor="middle" textLength="6" lengthAdjust="spacingAndGlyphs" transform="translate(846.5,900.43) rotate(90)">7</text>
<line x1="567.60" y1="907.10" x2="580.50" y2="907.10" stroke="#231815" stroke-width="1" />
<text x="0" y="0" font-size="11.5" fill="#231815" text-anchor="middle" textLength="11" lengthAdjust="spacingAndGlyphs" transform="translate(570,913.54) rotate(90)">18</text>
<line x1="844.00" y1="906.85" x2="857.30" y2="906.85" stroke="#231815" stroke-width="1" />
<text x="0" y="0" font-size="11.5" fill="#231815" text-anchor="middle" textLength="6" lengthAdjust="spacingAndGlyphs" transform="translate(846.5,913.29) rotate(90)">6</text>
<line x1="567.60" y1="919.98" x2="580.50" y2="919.98" stroke="#231815" stroke-width="1" />
<text x="0" y="0" font-size="11.5" fill="#231815" text-anchor="middle" textLength="11" lengthAdjust="spacingAndGlyphs" transform="translate(570,926.43) rotate(90)">17</text>
<line x1="844.00" y1="919.71" x2="857.30" y2="919.71" stroke="#231815" stroke-width="1" />
<text x="0" y="0" font-size="11.5" fill="#231815" text-anchor="middle" textLength="6" lengthAdjust="spacingAndGlyphs" transform="translate(846.5,926.15) rotate(90)">5</text>
<line x1="567.60" y1="932.87" x2="580.50" y2="932.87" stroke="#231815" stroke-width="1" />
<text x="0" y="0" font-size="11.5" fill="#231815" text-anchor="middle" textLength="11" lengthAdjust="spacingAndGlyphs" transform="translate(570,939.31) rotate(90)">16</text>
<line x1="844.00" y1="932.57" x2="857.30" y2="932.57" stroke="#231815" stroke-width="1" />
<text x="0" y="0" font-size="11.5" fill="#231815" text-anchor="middle" textLength="6" lengthAdjust="spacingAndGlyphs" transform="translate(846.5,939.01) rotate(90)">4</text>
<line x1="567.60" y1="945.75" x2="580.50" y2="945.75" stroke="#231815" stroke-width="1" />
<text x="0" y="0" font-size="11.5" fill="#231815" text-anchor="middle" textLength="11" lengthAdjust="spacingAndGlyphs" transform="translate(570,952.19) rotate(90)">15</text>
<line x1="844.00" y1="945.42" x2="857.30" y2="945.42" stroke="#231815" stroke-width="1" />
<text x="0" y="0" font-size="11.5" fill="#231815" text-anchor="middle" textLength="6" lengthAdjust="spacingAndGlyphs" transform="translate(846.5,951.87) rotate(90)">3</text>
<line x1="567.60" y1="958.63" x2="580.50" y2="958.63" stroke="#231815" stroke-width="1" />
<text x="0" y="0" font-size="11.5" fill="#231815" text-anchor="middle" textLength="11" lengthAdjust="spacingAndGlyphs" transform="translate(570,965.08) rotate(90)">14</text>
<line x1="844.00" y1="958.28" x2="857.30" y2="958.28" stroke="#231815" stroke-width="1" />
<text x="0" y="0" font-size="11.5" fill="#231815" text-anchor="middle" textLength="6" lengthAdjust="spacingAndGlyphs" transform="translate(846.5,964.73) rotate(90)">2</text>
<line x1="567.60" y1="971.52" x2="580.50" y2="971.52" stroke="#231815" stroke-width="1" />
<text x="0" y="0" font-size="11.5" fill="#231815" text-anchor="middle" textLength="11" lengthAdjust="spacingAndGlyphs" transform="translate(570,977.96) rotate(90)">13</text>
<line x1="844.00" y1="971.14" x2="857.30" y2="971.14" stroke="#231815" stroke-width="1" />
<text x="0" y="0" font-size="11.5" fill="#231815" text-anchor="middle" textLength="6" lengthAdjust="spacingAndGlyphs" transform="translate(846.5,977.58) rotate(90)">1</text>
<text x="0" y="0" font-size="8" fill="#231815" textLength="15" lengthAdjust="spacingAndGlyphs" stroke="#231815" stroke-width="0.3" transform="translate(714,863.3) rotate(90)">运行</text>
<text x="0" y="0" font-size="8" font-weight="bold" fill="#231815" textLength="15" lengthAdjust="spacingAndGlyphs" transform="translate(714,884.7) rotate(90)">报警</text>
<text x="0" y="0" font-size="9" font-weight="bold" fill="#231815" textLength="18.5" lengthAdjust="spacingAndGlyphs" transform="translate(742.5,900) rotate(90)">虹润</text>
<circle cx="760.4" cy="909.4" r="8.8" fill="none" stroke="#d7282f" stroke-width="0.8"/>
<path d="M752.5,909.4 A7.9,7.9 0 1 1 768.3,909.4 A7.9,7.9 0 1 0 752.5,909.4 Z" fill="none"/>
<circle cx="760.4" cy="909.4" r="7.6" fill="#d7282f"/><circle cx="762" cy="910.6" r="5.9" fill="#fff"/>
<text x="0" y="0" font-size="6.5" font-weight="bold" fill="#d7282f" text-anchor="middle" transform="translate(759.8,909.4) rotate(90)">HR</text>
<line x1="857.30" y1="926.00" x2="871.40" y2="926.00" stroke="#231815" stroke-width="1.1" />
<circle cx="874.00" cy="926.00" r="2.30" fill="#fff" stroke="#231815" stroke-width="1"/>
<line x1="857.30" y1="939.00" x2="871.40" y2="939.00" stroke="#231815" stroke-width="1.1" />
<circle cx="874.00" cy="939.00" r="2.30" fill="#fff" stroke="#231815" stroke-width="1"/>
<line x1="857.30" y1="964.50" x2="871.40" y2="964.50" stroke="#231815" stroke-width="1.1" />
<circle cx="874.00" cy="964.50" r="2.30" fill="#fff" stroke="#231815" stroke-width="1"/>
<line x1="857.30" y1="977.30" x2="871.40" y2="977.30" stroke="#231815" stroke-width="1.1" />
<circle cx="874.00" cy="977.30" r="2.30" fill="#fff" stroke="#231815" stroke-width="1"/>
<text x="861.50" y="922.00" font-size="8.8" fill="#231815" font-weight="normal" text-anchor="start" textLength="19.20" lengthAdjust="spacingAndGlyphs"  stroke="#231815" stroke-width="0.19">IN1+</text>
<text x="860.00" y="950.70" font-size="9" fill="#231815" font-weight="normal" text-anchor="start" textLength="16.00" lengthAdjust="spacingAndGlyphs"  stroke="#231815" stroke-width="0.19">GND</text>
<text x="866.00" y="963.00" font-size="9.5" fill="#231815" font-weight="normal" text-anchor="start" textLength="5.00" lengthAdjust="spacingAndGlyphs"  stroke="#231815" stroke-width="0.19">L</text>
<text x="877.00" y="975.50" font-size="12.4" fill="#231815" font-weight="normal" text-anchor="start" textLength="33.00" lengthAdjust="spacingAndGlyphs"  stroke="#231815" stroke-width="0.19">AC220V</text>
<text x="866.00" y="988.00" font-size="9.5" fill="#231815" font-weight="normal" text-anchor="start" textLength="5.00" lengthAdjust="spacingAndGlyphs"  stroke="#231815" stroke-width="0.19">N</text>
</g>
</defs>
<rect width="1080" height="1904" fill="#fff"/>
<rect x="0" y="14.6" width="1079" height="125.1" fill="#d0cecf"/>
<text x="532.00" y="84.30" font-size="52.5" fill="#0d0d0d" font-weight="normal" text-anchor="middle" stroke="#0d0d0d" stroke-width="1">仪表接线</text>
<text x="532.60" y="110.00" font-size="20.5" fill="#2e2e2e" font-weight="normal" text-anchor="middle" textLength="172.00" lengthAdjust="spacingAndGlyphs" >Instrument wiring</text>
<circle cx="77.80" cy="212.50" r="5.20" fill="#e60012"/>
<text x="99.00" y="221.50" font-size="33" fill="#111" font-weight="normal" text-anchor="start" letter-spacing="4.6">外置单相移相可控硅输出控制电路</text>
<text x="66.50" y="278.00" font-size="25.87" fill="#111" font-weight="bold" text-anchor="start" >此电路为简易示意图，不含电气保护，具体布线请在专业电工指导下进行；</text>
<text x="53.90" y="336.30" font-size="16" fill="#231815" font-weight="normal" text-anchor="start"  stroke="#231815" stroke-width="0.22">电源端</text>
<text x="117.80" y="337.60" font-size="17.4" fill="#231815" font-weight="normal" text-anchor="start" textLength="49.60" lengthAdjust="spacingAndGlyphs"  stroke="#231815" stroke-width="0.28">AC220V</text>
<text x="52.60" y="366.00" font-size="17.4" fill="#e60012" font-weight="bold" text-anchor="start" textLength="5.20" lengthAdjust="spacingAndGlyphs" >L</text>
<text x="53.00" y="401.70" font-size="17.4" fill="#231815" font-weight="bold" text-anchor="start" textLength="7.20" lengthAdjust="spacingAndGlyphs" >N</text>
<line x1="69.60" y1="360.80" x2="925.80" y2="360.80" stroke="#e60012" stroke-width="2.2" />
<line x1="69.60" y1="395.90" x2="929.00" y2="395.90" stroke="#231815" stroke-width="2.2" />
<line x1="138.80" y1="360.80" x2="138.80" y2="884.00" stroke="#e60012" stroke-width="2" />
<polyline points="139.00,806.30 53.00,806.30 53.00,978.00 454.80,978.00 454.80,948.90" fill="none" stroke="#e60012" stroke-width="2" stroke-linejoin="miter" />
<line x1="454.80" y1="901.10" x2="454.80" y2="930.70" stroke="#e60012" stroke-width="2" />
<rect x="131.00" y="419.00" width="15.50" height="53.00" fill="none" stroke="#231815" stroke-width="1.8" />
<text x="76.00" y="451.80" font-size="16.5" fill="#231815" font-weight="normal" text-anchor="start"  stroke="#231815" stroke-width="0.22">溶断器</text>
<text x="149.80" y="453.00" font-size="13" fill="#231815" font-weight="normal" text-anchor="start" textLength="13.20" lengthAdjust="spacingAndGlyphs"  stroke="#231815" stroke-width="0.22">BX</text>
<line x1="214.60" y1="395.90" x2="214.60" y2="455.00" stroke="#231815" stroke-width="2" />
<use href="#load"/>
<text x="238.00" y="529.50" font-size="16" fill="#231815" font-weight="normal" text-anchor="start"  stroke="#231815" stroke-width="0.22">负载</text>
<line x1="215.20" y1="584.40" x2="215.80" y2="884.00" stroke="#231815" stroke-width="2" />
<line x1="138.80" y1="698.70" x2="166.90" y2="698.70" stroke="#231815" stroke-width="1.8" />
<line x1="198.30" y1="698.70" x2="215.80" y2="698.70" stroke="#231815" stroke-width="1.8" />
<rect x="166.90" y="694.60" width="31.40" height="10.20" fill="#fff" stroke="#231815" stroke-width="1.8" />
<polyline points="168.50,711.00 197.70,689.40 197.70,682.70" fill="none" stroke="#231815" stroke-width="1.5" stroke-linejoin="miter" />
<polyline points="184.40,684.60 193.50,687.30 184.40,690.20" fill="none" stroke="#231815" stroke-width="1.5" stroke-linejoin="miter" />
<circle cx="138.80" cy="698.70" r="4.20" fill="#231815"/>
<circle cx="215.80" cy="698.70" r="4.20" fill="#231815"/>
<text x="174.00" y="723.00" font-size="11.6" fill="#231815" font-weight="normal" text-anchor="start" textLength="21.00" lengthAdjust="spacingAndGlyphs"  stroke="#231815" stroke-width="0.22">ZNR</text>
<text x="224.00" y="703.80" font-size="16.8" fill="#231815" font-weight="normal" text-anchor="start"  stroke="#231815" stroke-width="0.22">压敏电阻</text>
<line x1="138.80" y1="753.80" x2="155.80" y2="753.80" stroke="#231815" stroke-width="1.8" />
<line x1="162.20" y1="753.80" x2="176.70" y2="753.80" stroke="#231815" stroke-width="1.8" />
<line x1="198.30" y1="753.80" x2="215.80" y2="753.80" stroke="#231815" stroke-width="1.8" />
<line x1="155.80" y1="745.00" x2="155.80" y2="763.00" stroke="#231815" stroke-width="1.8" />
<line x1="162.20" y1="745.00" x2="162.20" y2="763.00" stroke="#231815" stroke-width="1.8" />
<rect x="176.70" y="750.00" width="21.60" height="9.00" fill="#fff" stroke="#231815" stroke-width="1.8" />
<circle cx="138.80" cy="753.80" r="4.20" fill="#231815"/>
<circle cx="215.80" cy="753.80" r="4.20" fill="#231815"/>
<text x="167.00" y="777.50" font-size="13.8" fill="#231815" font-weight="normal" text-anchor="start" textLength="14.00" lengthAdjust="spacingAndGlyphs"  stroke="#231815" stroke-width="0.22">RC</text>
<text x="224.00" y="758.80" font-size="16.8" fill="#231815" font-weight="normal" text-anchor="start"  stroke="#231815" stroke-width="0.22">阻容吸收</text>
<circle cx="139.00" cy="806.30" r="4.50" fill="#231815"/>
<circle cx="216.30" cy="806.30" r="4.50" fill="#231815"/>
<circle cx="138.70" cy="360.80" r="5.50" fill="#e60012"/>
<circle cx="214.60" cy="395.90" r="5.00" fill="#231815"/>
<circle cx="349.00" cy="395.90" r="5.00" fill="#231815"/>
<circle cx="363.10" cy="360.80" r="5.50" fill="#e60012"/>
<polyline points="349.00,395.90 347.20,395.90 347.20,762.00 433.90,762.00" fill="none" stroke="#231815" stroke-width="2" stroke-linejoin="miter" />
<polyline points="363.10,360.80 363.10,731.10 433.90,731.10" fill="none" stroke="#e60012" stroke-width="2" stroke-linejoin="miter" />
<text x="359.10" y="752.80" font-size="16.3" fill="#231815" font-weight="normal" text-anchor="start"  stroke="#231815" stroke-width="0.22">仪表供电</text>
<use href="#ctrl"/>
<polyline points="477.30,579.00 566.70,579.00 566.70,794.80 901.20,794.80 901.20,938.90 876.30,938.90" fill="none" stroke="#009a44" stroke-width="2" stroke-linejoin="miter" />
<polyline points="477.30,609.30 548.30,609.30 548.30,808.00 887.90,808.00 887.90,926.00 876.30,926.00" fill="none" stroke="#009a44" stroke-width="2" stroke-linejoin="miter" />
<use href="#scr"/>
<text x="300.50" y="924.80" font-size="16" fill="#231815" font-weight="normal" text-anchor="middle" textLength="17.00" lengthAdjust="spacingAndGlyphs"  stroke="#231815" stroke-width="0.28">A2</text>
<text x="149.00" y="856.30" font-size="20.3" fill="#231815" font-weight="normal" text-anchor="middle" textLength="5.50" lengthAdjust="spacingAndGlyphs"  stroke="#231815" stroke-width="0.11">1</text>
<text x="224.50" y="856.30" font-size="20.3" fill="#231815" font-weight="normal" text-anchor="middle" textLength="10.50" lengthAdjust="spacingAndGlyphs"  stroke="#231815" stroke-width="0.11">2</text>
<text x="300.00" y="856.30" font-size="20.3" fill="#231815" font-weight="normal" text-anchor="middle" textLength="10.50" lengthAdjust="spacingAndGlyphs"  stroke="#231815" stroke-width="0.11">3</text>
<polyline points="216.30,806.30 454.80,806.30 454.80,828.90" fill="none" stroke="#231815" stroke-width="2" stroke-linejoin="miter" />
<line x1="216.30" y1="806.30" x2="216.30" y2="884.00" stroke="#231815" stroke-width="2" />
<line x1="139.00" y1="806.30" x2="139.00" y2="884.00" stroke="#e60012" stroke-width="2" />
<line x1="454.80" y1="846.00" x2="454.80" y2="869.30" stroke="#231815" stroke-width="2" />
<path d="M438.9,828.9 L473,828.9 L455.9,845.6 Z" fill="#231815"/>
<line x1="438.50" y1="846.50" x2="472.50" y2="846.50" stroke="#231815" stroke-width="2.6" />
<path d="M438.9,948.9 L473,948.9 L455.9,931.5 Z" fill="#231815"/>
<line x1="438.50" y1="930.70" x2="472.50" y2="930.70" stroke="#231815" stroke-width="2.6" />
<circle cx="454.80" cy="869.30" r="4.50" fill="#231815"/>
<circle cx="454.80" cy="901.10" r="4.50" fill="#231815"/>
<text x="468.40" y="822.60" font-size="16.6" fill="#231815" font-weight="normal" text-anchor="start" textLength="45.10" lengthAdjust="spacingAndGlyphs"  stroke="#231815" stroke-width="0.33">IN4001</text>
<text x="468.40" y="970.00" font-size="16.6" fill="#231815" font-weight="normal" text-anchor="start" textLength="45.10" lengthAdjust="spacingAndGlyphs"  stroke="#231815" stroke-width="0.33">IN4001</text>
<polyline points="340.40,869.80 532.40,869.80 532.40,873.70 548.30,873.70" fill="none" stroke="#009a44" stroke-width="2" stroke-linejoin="miter" />
<polyline points="340.40,901.50 518.00,901.50 518.00,886.70 548.30,886.70" fill="none" stroke="#009a44" stroke-width="2" stroke-linejoin="miter" />
<circle cx="551.00" cy="873.70" r="2.70" fill="#fff" stroke="#231815" stroke-width="1.2"/>
<circle cx="551.00" cy="886.70" r="2.70" fill="#fff" stroke="#231815" stroke-width="1.2"/>
<line x1="553.70" y1="873.70" x2="567.60" y2="873.70" stroke="#6b6b6b" stroke-width="1.2" />
<line x1="553.70" y1="886.70" x2="567.60" y2="886.70" stroke="#6b6b6b" stroke-width="1.2" />
<text x="550.00" y="868.70" font-size="10" fill="#231815" font-weight="normal" text-anchor="start" textLength="10.00" lengthAdjust="spacingAndGlyphs"  stroke="#231815" stroke-width="0.19">G1</text>
<text x="547.60" y="899.80" font-size="10" fill="#231815" font-weight="normal" text-anchor="start" textLength="15.40" lengthAdjust="spacingAndGlyphs"  stroke="#231815" stroke-width="0.19">GL1</text>
<text x="114.50" y="956.10" font-size="16" fill="#231815" font-weight="normal" text-anchor="start" textLength="260.50" lengthAdjust="spacingAndGlyphs"  stroke="#231815" stroke-width="0.22">2个单向可控硅反并联（2和3短接）</text>
<use href="#rc"/>
<line x1="15.7" y1="1013.3" x2="1059" y2="1013.3" stroke="#8a8a8a" stroke-width="2" stroke-dasharray="23.7 23.7" stroke-dashoffset="11.7"/>
<circle cx="77.80" cy="1059.30" r="5.20" fill="#e60012"/>
<text x="100.00" y="1068.00" font-size="33" fill="#111" font-weight="normal" text-anchor="start" letter-spacing="4.47">外置三相移相可控硅输出（三相四线接法）控制电路</text>
<text x="66.30" y="1125.50" font-size="25.87" fill="#111" font-weight="bold" text-anchor="start" >此电路为简易示意图，不含电气保护，具体布线请在专业电工指导下进行；</text>
<text x="52.20" y="1174.60" font-size="14.6" fill="#231815" font-weight="normal" text-anchor="start"  stroke="#231815" stroke-width="0.22">三相四线制电源</text>
<line x1="69.40" y1="1194.40" x2="990.00" y2="1194.40" stroke="#e60012" stroke-width="1.8" />
<text x="51.60" y="1198.60" font-size="11.6" fill="#e60012" font-weight="bold" text-anchor="start" textLength="6.20" lengthAdjust="spacingAndGlyphs" >C</text>
<line x1="69.40" y1="1218.00" x2="990.00" y2="1218.00" stroke="#e60012" stroke-width="1.8" />
<text x="51.60" y="1222.20" font-size="11.6" fill="#e60012" font-weight="bold" text-anchor="start" textLength="6.20" lengthAdjust="spacingAndGlyphs" >B</text>
<line x1="69.40" y1="1242.60" x2="990.00" y2="1242.60" stroke="#e60012" stroke-width="1.8" />
<text x="51.60" y="1246.80" font-size="11.6" fill="#e60012" font-weight="bold" text-anchor="start" textLength="6.20" lengthAdjust="spacingAndGlyphs" >A</text>
<line x1="69.40" y1="1266.00" x2="991.00" y2="1266.00" stroke="#231815" stroke-width="1.8" />
<text x="51.60" y="1270.20" font-size="11.6" fill="#231815" font-weight="bold" text-anchor="start" textLength="6.20" lengthAdjust="spacingAndGlyphs" >N</text>
<rect x="144" y="1288.9" width="354.9" height="118.4" fill="none" stroke="#231815" stroke-width="1.4" stroke-dasharray="6.3 6.3" stroke-dashoffset="2.6"/>
<line x1="120.00" y1="1194.40" x2="120.00" y2="1825.00" stroke="#e60012" stroke-width="1.7" />
<line x1="259.60" y1="1218.00" x2="259.60" y2="1716.00" stroke="#e60012" stroke-width="1.7" />
<line x1="406.30" y1="1242.60" x2="406.30" y2="1611.40" stroke="#e60012" stroke-width="1.7" />
<polyline points="530.20,1242.60 530.60,1521.40 578.60,1521.40" fill="none" stroke="#e60012" stroke-width="1.7" stroke-linejoin="miter" />
<polyline points="512.30,1266.00 512.50,1545.00 578.60,1545.00" fill="none" stroke="#231815" stroke-width="1.7" stroke-linejoin="miter" />
<line x1="165.70" y1="1266.00" x2="166.90" y2="1311.00" stroke="#231815" stroke-width="1.7" />
<line x1="167.70" y1="1389.00" x2="166.90" y2="1825.00" stroke="#231815" stroke-width="1.7" />
<line x1="305.30" y1="1266.00" x2="306.50" y2="1311.00" stroke="#231815" stroke-width="1.7" />
<line x1="307.20" y1="1389.00" x2="306.50" y2="1716.00" stroke="#231815" stroke-width="1.7" />
<line x1="451.70" y1="1266.00" x2="452.30" y2="1311.00" stroke="#231815" stroke-width="1.7" />
<line x1="453.70" y1="1389.00" x2="453.30" y2="1611.40" stroke="#231815" stroke-width="1.7" />
<use href="#load" transform="translate(38.6,1037.64) scale(0.6)"/>
<use href="#load" transform="translate(178.1,1037.64) scale(0.6)"/>
<use href="#load" transform="translate(324.6,1037.64) scale(0.6)"/>
<text x="183.30" y="1352.30" font-size="11.7" fill="#231815" font-weight="normal" text-anchor="start"  stroke="#231815" stroke-width="0.1">负载</text>
<text x="322.90" y="1352.30" font-size="11.7" fill="#231815" font-weight="normal" text-anchor="start"  stroke="#231815" stroke-width="0.1">负载</text>
<text x="469.30" y="1352.30" font-size="11.7" fill="#231815" font-weight="normal" text-anchor="start"  stroke="#231815" stroke-width="0.1">负载</text>
<rect x="114.30" y="1425.40" width="11.40" height="39.80" fill="none" stroke="#231815" stroke-width="1.4" />
<text x="73.00" y="1450.50" font-size="12.5" fill="#231815" font-weight="normal" text-anchor="start"  stroke="#231815" stroke-width="0.1">溶断器</text>
<text x="128.90" y="1450.70" font-size="10.8" fill="#231815" font-weight="normal" text-anchor="start" textLength="9.80" lengthAdjust="spacingAndGlyphs"  stroke="#231815" stroke-width="0.19">BX</text>
<line x1="119.80" y1="1491.50" x2="130.00" y2="1491.50" stroke="#231815" stroke-width="1.4" />
<line x1="153.50" y1="1491.50" x2="166.90" y2="1491.50" stroke="#231815" stroke-width="1.4" />
<rect x="130.00" y="1488.70" width="23.50" height="8.00" fill="#fff" stroke="#231815" stroke-width="1.4" />
<polyline points="131.20,1501.50 153.00,1484.60 153.00,1479.40" fill="none" stroke="#231815" stroke-width="1.1" stroke-linejoin="miter" />
<polyline points="143.10,1480.90 149.90,1483.00 143.10,1485.30" fill="none" stroke="#231815" stroke-width="1.1" stroke-linejoin="miter" />
<circle cx="119.80" cy="1491.50" r="3.30" fill="#231815"/>
<circle cx="166.90" cy="1491.50" r="3.30" fill="#231815"/>
<text x="136.00" y="1511.00" font-size="9" fill="#231815" font-weight="normal" text-anchor="start" textLength="14.70" lengthAdjust="spacingAndGlyphs"  stroke="#231815" stroke-width="0.19">ZNR</text>
<text x="173.30" y="1489.80" font-size="12.5" fill="#231815" font-weight="normal" text-anchor="start"  stroke="#231815" stroke-width="0.1">压敏</text>
<text x="173.30" y="1505.50" font-size="12.5" fill="#231815" font-weight="normal" text-anchor="start"  stroke="#231815" stroke-width="0.1">电阻</text>
<line x1="119.80" y1="1533.70" x2="128.10" y2="1533.70" stroke="#231815" stroke-width="1.4" />
<line x1="132.60" y1="1533.70" x2="139.30" y2="1533.70" stroke="#231815" stroke-width="1.4" />
<line x1="155.90" y1="1533.70" x2="166.90" y2="1533.70" stroke="#231815" stroke-width="1.4" />
<line x1="128.10" y1="1527.00" x2="128.10" y2="1540.60" stroke="#231815" stroke-width="1.4" />
<line x1="132.60" y1="1527.00" x2="132.60" y2="1540.60" stroke="#231815" stroke-width="1.4" />
<rect x="139.30" y="1530.40" width="16.60" height="7.00" fill="#fff" stroke="#231815" stroke-width="1.4" />
<circle cx="119.80" cy="1533.70" r="3.30" fill="#231815"/>
<circle cx="166.90" cy="1533.70" r="3.30" fill="#231815"/>
<text x="130.00" y="1551.70" font-size="9.4" fill="#231815" font-weight="normal" text-anchor="start" textLength="10.60" lengthAdjust="spacingAndGlyphs"  stroke="#231815" stroke-width="0.19">RC</text>
<text x="173.30" y="1531.30" font-size="12.5" fill="#231815" font-weight="normal" text-anchor="start"  stroke="#231815" stroke-width="0.1">阻容</text>
<text x="173.30" y="1547.20" font-size="12.5" fill="#231815" font-weight="normal" text-anchor="start"  stroke="#231815" stroke-width="0.1">吸收</text>
<rect x="254.10" y="1420.90" width="11.40" height="39.80" fill="none" stroke="#231815" stroke-width="1.4" />
<text x="212.80" y="1446.00" font-size="12.5" fill="#231815" font-weight="normal" text-anchor="start"  stroke="#231815" stroke-width="0.1">溶断器</text>
<text x="268.70" y="1446.20" font-size="10.8" fill="#231815" font-weight="normal" text-anchor="start" textLength="9.80" lengthAdjust="spacingAndGlyphs"  stroke="#231815" stroke-width="0.19">BX</text>
<line x1="259.60" y1="1487.00" x2="269.80" y2="1487.00" stroke="#231815" stroke-width="1.4" />
<line x1="293.30" y1="1487.00" x2="306.70" y2="1487.00" stroke="#231815" stroke-width="1.4" />
<rect x="269.80" y="1484.20" width="23.50" height="8.00" fill="#fff" stroke="#231815" stroke-width="1.4" />
<polyline points="271.00,1497.00 292.80,1480.10 292.80,1474.90" fill="none" stroke="#231815" stroke-width="1.1" stroke-linejoin="miter" />
<polyline points="282.90,1476.40 289.70,1478.50 282.90,1480.80" fill="none" stroke="#231815" stroke-width="1.1" stroke-linejoin="miter" />
<circle cx="259.60" cy="1487.00" r="3.30" fill="#231815"/>
<circle cx="306.70" cy="1487.00" r="3.30" fill="#231815"/>
<text x="275.80" y="1506.50" font-size="9" fill="#231815" font-weight="normal" text-anchor="start" textLength="14.70" lengthAdjust="spacingAndGlyphs"  stroke="#231815" stroke-width="0.19">ZNR</text>
<text x="313.10" y="1485.30" font-size="12.5" fill="#231815" font-weight="normal" text-anchor="start"  stroke="#231815" stroke-width="0.1">压敏</text>
<text x="313.10" y="1501.00" font-size="12.5" fill="#231815" font-weight="normal" text-anchor="start"  stroke="#231815" stroke-width="0.1">电阻</text>
<line x1="259.60" y1="1529.20" x2="267.90" y2="1529.20" stroke="#231815" stroke-width="1.4" />
<line x1="272.40" y1="1529.20" x2="279.10" y2="1529.20" stroke="#231815" stroke-width="1.4" />
<line x1="295.70" y1="1529.20" x2="306.70" y2="1529.20" stroke="#231815" stroke-width="1.4" />
<line x1="267.90" y1="1522.50" x2="267.90" y2="1536.10" stroke="#231815" stroke-width="1.4" />
<line x1="272.40" y1="1522.50" x2="272.40" y2="1536.10" stroke="#231815" stroke-width="1.4" />
<rect x="279.10" y="1525.90" width="16.60" height="7.00" fill="#fff" stroke="#231815" stroke-width="1.4" />
<circle cx="259.60" cy="1529.20" r="3.30" fill="#231815"/>
<circle cx="306.70" cy="1529.20" r="3.30" fill="#231815"/>
<text x="269.80" y="1547.20" font-size="9.4" fill="#231815" font-weight="normal" text-anchor="start" textLength="10.60" lengthAdjust="spacingAndGlyphs"  stroke="#231815" stroke-width="0.19">RC</text>
<text x="313.10" y="1526.80" font-size="12.5" fill="#231815" font-weight="normal" text-anchor="start"  stroke="#231815" stroke-width="0.1">阻容</text>
<text x="313.10" y="1542.70" font-size="12.5" fill="#231815" font-weight="normal" text-anchor="start"  stroke="#231815" stroke-width="0.1">吸收</text>
<rect x="400.80" y="1424.30" width="11.40" height="39.80" fill="none" stroke="#231815" stroke-width="1.4" />
<text x="359.50" y="1449.40" font-size="12.5" fill="#231815" font-weight="normal" text-anchor="start"  stroke="#231815" stroke-width="0.1">溶断器</text>
<text x="415.40" y="1449.60" font-size="10.8" fill="#231815" font-weight="normal" text-anchor="start" textLength="9.80" lengthAdjust="spacingAndGlyphs"  stroke="#231815" stroke-width="0.19">BX</text>
<line x1="406.30" y1="1490.40" x2="416.50" y2="1490.40" stroke="#231815" stroke-width="1.4" />
<line x1="440.00" y1="1490.40" x2="453.40" y2="1490.40" stroke="#231815" stroke-width="1.4" />
<rect x="416.50" y="1487.60" width="23.50" height="8.00" fill="#fff" stroke="#231815" stroke-width="1.4" />
<polyline points="417.70,1500.40 439.50,1483.50 439.50,1478.30" fill="none" stroke="#231815" stroke-width="1.1" stroke-linejoin="miter" />
<polyline points="429.60,1479.80 436.40,1481.90 429.60,1484.20" fill="none" stroke="#231815" stroke-width="1.1" stroke-linejoin="miter" />
<circle cx="406.30" cy="1490.40" r="3.30" fill="#231815"/>
<circle cx="453.40" cy="1490.40" r="3.30" fill="#231815"/>
<text x="422.50" y="1509.90" font-size="9" fill="#231815" font-weight="normal" text-anchor="start" textLength="14.70" lengthAdjust="spacingAndGlyphs"  stroke="#231815" stroke-width="0.19">ZNR</text>
<text x="459.80" y="1488.70" font-size="12.5" fill="#231815" font-weight="normal" text-anchor="start"  stroke="#231815" stroke-width="0.1">压敏</text>
<text x="459.80" y="1504.40" font-size="12.5" fill="#231815" font-weight="normal" text-anchor="start"  stroke="#231815" stroke-width="0.1">电阻</text>
<line x1="406.30" y1="1532.60" x2="414.60" y2="1532.60" stroke="#231815" stroke-width="1.4" />
<line x1="419.10" y1="1532.60" x2="425.80" y2="1532.60" stroke="#231815" stroke-width="1.4" />
<line x1="442.40" y1="1532.60" x2="453.40" y2="1532.60" stroke="#231815" stroke-width="1.4" />
<line x1="414.60" y1="1525.90" x2="414.60" y2="1539.50" stroke="#231815" stroke-width="1.4" />
<line x1="419.10" y1="1525.90" x2="419.10" y2="1539.50" stroke="#231815" stroke-width="1.4" />
<rect x="425.80" y="1529.30" width="16.60" height="7.00" fill="#fff" stroke="#231815" stroke-width="1.4" />
<circle cx="406.30" cy="1532.60" r="3.30" fill="#231815"/>
<circle cx="453.40" cy="1532.60" r="3.30" fill="#231815"/>
<text x="416.50" y="1550.60" font-size="9.4" fill="#231815" font-weight="normal" text-anchor="start" textLength="10.60" lengthAdjust="spacingAndGlyphs"  stroke="#231815" stroke-width="0.19">RC</text>
<text x="459.80" y="1530.20" font-size="12.5" fill="#231815" font-weight="normal" text-anchor="start"  stroke="#231815" stroke-width="0.1">阻容</text>
<text x="459.80" y="1546.10" font-size="12.5" fill="#231815" font-weight="normal" text-anchor="start"  stroke="#231815" stroke-width="0.1">吸收</text>
<circle cx="119.90" cy="1194.40" r="4.20" fill="#e60012"/>
<circle cx="259.40" cy="1218.00" r="4.20" fill="#e60012"/>
<circle cx="406.40" cy="1242.60" r="4.20" fill="#e60012"/>
<circle cx="529.90" cy="1242.60" r="4.20" fill="#e60012"/>
<circle cx="165.70" cy="1266.00" r="3.80" fill="#231815"/>
<circle cx="305.30" cy="1266.00" r="3.80" fill="#231815"/>
<circle cx="451.70" cy="1266.00" r="3.80" fill="#231815"/>
<circle cx="512.30" cy="1266.00" r="3.80" fill="#231815"/>
<use href="#ctrl" transform="translate(251.87,972.07) scale(0.753,0.7505)"/>
<text x="520.80" y="1536.30" font-size="12.6" fill="#231815" font-weight="normal" text-anchor="start"  stroke="#231815" stroke-width="0.1">仪表供电</text>
<polyline points="611.00,1406.70 678.90,1406.70 678.90,1585.20 1015.20,1585.20 1015.20,1728.90 992.50,1728.90" fill="none" stroke="#009a44" stroke-width="1.7" stroke-linejoin="miter" />
<polyline points="611.00,1429.70 665.20,1429.70 665.20,1595.20 1002.20,1595.20 1002.20,1716.40 992.50,1716.40" fill="none" stroke="#009a44" stroke-width="1.7" stroke-linejoin="miter" />
<use href="#rc" transform="translate(132.2,808.46) scale(0.98)"/>
<line x1="702.10" y1="1783.30" x2="960.70" y2="1783.30" stroke="#231815" stroke-width="1.2" />
<use href="#scr" transform="translate(316.9,1081.02) scale(0.6)"/>
<text x="0" y="0" font-size="9" fill="#231815" text-anchor="middle" textLength="10.2" lengthAdjust="spacingAndGlyphs" transform="translate(497.20,1635.90)">A2</text>
<line x1="406.50" y1="1568.50" x2="406.50" y2="1611.42" stroke="#e60012" stroke-width="1.7" />
<line x1="453.30" y1="1568.50" x2="453.30" y2="1611.42" stroke="#231815" stroke-width="1.7" />
<polyline points="406.50,1568.50 353.90,1568.50 353.90,1655.00 592.00,1655.00 592.00,1647.00" fill="none" stroke="#e60012" stroke-width="1.7" stroke-linejoin="miter" />
<polyline points="453.30,1568.50 592.00,1568.50 592.00,1579.50" fill="none" stroke="#231815" stroke-width="1.7" stroke-linejoin="miter" />
<circle cx="406.50" cy="1568.50" r="3.60" fill="#231815"/>
<circle cx="453.30" cy="1568.50" r="3.60" fill="#231815"/>
<text x="408.90" y="1594.80" font-size="12.2" fill="#231815" font-weight="normal" text-anchor="middle" textLength="3.30" lengthAdjust="spacingAndGlyphs"  stroke="#231815" stroke-width="0.08">1</text>
<text x="457.40" y="1594.80" font-size="12.2" fill="#231815" font-weight="normal" text-anchor="middle" textLength="6.30" lengthAdjust="spacingAndGlyphs"  stroke="#231815" stroke-width="0.08">2</text>
<text x="497.70" y="1594.80" font-size="12.2" fill="#231815" font-weight="normal" text-anchor="middle" textLength="6.30" lengthAdjust="spacingAndGlyphs"  stroke="#231815" stroke-width="0.08">3</text>
<use href="#scr" transform="translate(170.1,1185.62) scale(0.6)"/>
<line x1="259.80" y1="1673.30" x2="259.80" y2="1716.02" stroke="#e60012" stroke-width="1.7" />
<line x1="306.50" y1="1673.30" x2="306.50" y2="1716.02" stroke="#231815" stroke-width="1.7" />
<polyline points="259.80,1673.30 207.00,1673.30 207.00,1760.00 445.30,1760.00 445.30,1752.00" fill="none" stroke="#e60012" stroke-width="1.7" stroke-linejoin="miter" />
<polyline points="306.50,1673.30 445.30,1673.30 445.30,1684.30" fill="none" stroke="#231815" stroke-width="1.7" stroke-linejoin="miter" />
<circle cx="259.80" cy="1673.30" r="3.60" fill="#231815"/>
<circle cx="306.50" cy="1673.30" r="3.60" fill="#231815"/>
<text x="262.10" y="1699.40" font-size="12.2" fill="#231815" font-weight="normal" text-anchor="middle" textLength="3.30" lengthAdjust="spacingAndGlyphs"  stroke="#231815" stroke-width="0.08">1</text>
<text x="310.60" y="1699.40" font-size="12.2" fill="#231815" font-weight="normal" text-anchor="middle" textLength="6.30" lengthAdjust="spacingAndGlyphs"  stroke="#231815" stroke-width="0.08">2</text>
<text x="350.90" y="1699.40" font-size="12.2" fill="#231815" font-weight="normal" text-anchor="middle" textLength="6.30" lengthAdjust="spacingAndGlyphs"  stroke="#231815" stroke-width="0.08">3</text>
<use href="#scr" transform="translate(30.1,1294.52) scale(0.6)"/>
<line x1="120.20" y1="1782.40" x2="120.20" y2="1824.92" stroke="#e60012" stroke-width="1.7" />
<line x1="167.00" y1="1782.40" x2="167.00" y2="1824.92" stroke="#231815" stroke-width="1.7" />
<polyline points="120.20,1782.40 67.60,1782.40 67.60,1869.00 305.70,1869.00 305.70,1861.00" fill="none" stroke="#e60012" stroke-width="1.7" stroke-linejoin="miter" />
<polyline points="167.00,1782.40 305.70,1782.40 305.70,1793.40" fill="none" stroke="#231815" stroke-width="1.7" stroke-linejoin="miter" />
<circle cx="120.20" cy="1782.40" r="3.60" fill="#231815"/>
<circle cx="167.00" cy="1782.40" r="3.60" fill="#231815"/>
<text x="122.10" y="1808.30" font-size="12.2" fill="#231815" font-weight="normal" text-anchor="middle" textLength="3.30" lengthAdjust="spacingAndGlyphs"  stroke="#231815" stroke-width="0.08">1</text>
<text x="170.60" y="1808.30" font-size="12.2" fill="#231815" font-weight="normal" text-anchor="middle" textLength="6.30" lengthAdjust="spacingAndGlyphs"  stroke="#231815" stroke-width="0.08">2</text>
<text x="210.90" y="1808.30" font-size="12.2" fill="#231815" font-weight="normal" text-anchor="middle" textLength="6.30" lengthAdjust="spacingAndGlyphs"  stroke="#231815" stroke-width="0.08">3</text>
<polyline points="528.00,1600.90 650.00,1600.90 650.00,1664.00 669.30,1664.00" fill="none" stroke="#009a44" stroke-width="1.7" stroke-linejoin="miter" />
<polyline points="528.00,1622.20 638.90,1622.20 638.90,1677.50 669.30,1677.50" fill="none" stroke="#009a44" stroke-width="1.7" stroke-linejoin="miter" />
<polyline points="374.30,1705.80 598.60,1705.80 598.60,1690.40 669.30,1690.40" fill="none" stroke="#009a44" stroke-width="1.7" stroke-linejoin="miter" />
<polyline points="374.30,1726.70 607.80,1726.70 607.80,1703.60 669.30,1703.60" fill="none" stroke="#009a44" stroke-width="1.7" stroke-linejoin="miter" />
<polyline points="234.30,1814.80 638.90,1814.80 638.90,1715.60 669.30,1715.60" fill="none" stroke="#009a44" stroke-width="1.7" stroke-linejoin="miter" />
<polyline points="234.30,1836.10 649.40,1836.10 649.40,1728.90 669.30,1728.90" fill="none" stroke="#009a44" stroke-width="1.7" stroke-linejoin="miter" />
<path d="M582.20,1579.70 L601.80,1579.70 L592.00,1589.70 Z" fill="#231815"/>
<line x1="582.80" y1="1589.70" x2="601.20" y2="1589.70" stroke="#231815" stroke-width="1.9" />
<line x1="592.00" y1="1589.70" x2="592.00" y2="1600.90" stroke="#231815" stroke-width="1.7" />
<line x1="592.00" y1="1622.10" x2="592.00" y2="1637.10" stroke="#e60012" stroke-width="1.7" />
<path d="M582.20,1647.00 L601.80,1647.00 L592.00,1637.10 Z" fill="#231815"/>
<line x1="582.80" y1="1637.10" x2="601.20" y2="1637.10" stroke="#231815" stroke-width="1.9" />
<circle cx="592.00" cy="1600.90" r="3.60" fill="#231815"/>
<circle cx="592.00" cy="1622.10" r="3.60" fill="#231815"/>
<text x="601.60" y="1577.40" font-size="11.3" fill="#231815" font-weight="normal" text-anchor="start" textLength="31.80" lengthAdjust="spacingAndGlyphs"  stroke="#231815" stroke-width="0.25">IN4001</text>
<text x="601.60" y="1658.10" font-size="11.3" fill="#231815" font-weight="normal" text-anchor="start" textLength="31.80" lengthAdjust="spacingAndGlyphs"  stroke="#231815" stroke-width="0.25">IN4001</text>
<path d="M435.50,1684.50 L455.10,1684.50 L445.30,1694.50 Z" fill="#231815"/>
<line x1="436.10" y1="1694.50" x2="454.50" y2="1694.50" stroke="#231815" stroke-width="1.9" />
<line x1="445.30" y1="1694.50" x2="445.30" y2="1705.70" stroke="#231815" stroke-width="1.7" />
<line x1="445.30" y1="1726.90" x2="445.30" y2="1741.90" stroke="#e60012" stroke-width="1.7" />
<path d="M435.50,1751.80 L455.10,1751.80 L445.30,1741.90 Z" fill="#231815"/>
<line x1="436.10" y1="1741.90" x2="454.50" y2="1741.90" stroke="#231815" stroke-width="1.9" />
<circle cx="445.30" cy="1705.70" r="3.60" fill="#231815"/>
<circle cx="445.30" cy="1726.90" r="3.60" fill="#231815"/>
<text x="454.90" y="1682.20" font-size="11.3" fill="#231815" font-weight="normal" text-anchor="start" textLength="31.80" lengthAdjust="spacingAndGlyphs"  stroke="#231815" stroke-width="0.25">IN4001</text>
<text x="454.90" y="1762.90" font-size="11.3" fill="#231815" font-weight="normal" text-anchor="start" textLength="31.80" lengthAdjust="spacingAndGlyphs"  stroke="#231815" stroke-width="0.25">IN4001</text>
<path d="M295.90,1793.60 L315.50,1793.60 L305.70,1803.60 Z" fill="#231815"/>
<line x1="296.50" y1="1803.60" x2="314.90" y2="1803.60" stroke="#231815" stroke-width="1.9" />
<line x1="305.70" y1="1803.60" x2="305.70" y2="1814.80" stroke="#231815" stroke-width="1.7" />
<line x1="305.70" y1="1836.00" x2="305.70" y2="1851.00" stroke="#e60012" stroke-width="1.7" />
<path d="M295.90,1860.90 L315.50,1860.90 L305.70,1851.00 Z" fill="#231815"/>
<line x1="296.50" y1="1851.00" x2="314.90" y2="1851.00" stroke="#231815" stroke-width="1.9" />
<circle cx="305.70" cy="1814.80" r="3.60" fill="#231815"/>
<circle cx="305.70" cy="1836.00" r="3.60" fill="#231815"/>
<text x="315.30" y="1791.30" font-size="11.3" fill="#231815" font-weight="normal" text-anchor="start" textLength="31.80" lengthAdjust="spacingAndGlyphs"  stroke="#231815" stroke-width="0.25">IN4001</text>
<text x="315.30" y="1872.00" font-size="11.3" fill="#231815" font-weight="normal" text-anchor="start" textLength="31.80" lengthAdjust="spacingAndGlyphs"  stroke="#231815" stroke-width="0.25">IN4001</text>
<circle cx="672.00" cy="1664.00" r="2.20" fill="#fff" stroke="#231815" stroke-width="0.9"/>
<line x1="674.60" y1="1664.00" x2="688.30" y2="1664.00" stroke="#6b6b6b" stroke-width="1.1" />
<text x="656.40" y="1662.00" font-size="10" fill="#231815" font-weight="normal" text-anchor="start" textLength="10.60" lengthAdjust="spacingAndGlyphs"  stroke="#231815" stroke-width="0.19">G1</text>
<circle cx="672.00" cy="1677.50" r="2.20" fill="#fff" stroke="#231815" stroke-width="0.9"/>
<line x1="674.60" y1="1677.50" x2="688.30" y2="1677.50" stroke="#6b6b6b" stroke-width="1.1" />
<text x="653.00" y="1675.50" font-size="10" fill="#231815" font-weight="normal" text-anchor="start" textLength="15.00" lengthAdjust="spacingAndGlyphs"  stroke="#231815" stroke-width="0.19">GL1</text>
<circle cx="672.00" cy="1690.40" r="2.20" fill="#fff" stroke="#231815" stroke-width="0.9"/>
<line x1="674.60" y1="1690.40" x2="688.30" y2="1690.40" stroke="#6b6b6b" stroke-width="1.1" />
<text x="657.00" y="1688.40" font-size="10" fill="#231815" font-weight="normal" text-anchor="start" textLength="10.60" lengthAdjust="spacingAndGlyphs"  stroke="#231815" stroke-width="0.19">G2</text>
<circle cx="672.00" cy="1703.60" r="2.20" fill="#fff" stroke="#231815" stroke-width="0.9"/>
<line x1="674.60" y1="1703.60" x2="688.30" y2="1703.60" stroke="#6b6b6b" stroke-width="1.1" />
<text x="653.00" y="1701.60" font-size="10" fill="#231815" font-weight="normal" text-anchor="start" textLength="15.00" lengthAdjust="spacingAndGlyphs"  stroke="#231815" stroke-width="0.19">GL2</text>
<circle cx="672.00" cy="1715.60" r="2.20" fill="#fff" stroke="#231815" stroke-width="0.9"/>
<line x1="674.60" y1="1715.60" x2="688.30" y2="1715.60" stroke="#6b6b6b" stroke-width="1.1" />
<text x="657.00" y="1713.60" font-size="10" fill="#231815" font-weight="normal" text-anchor="start" textLength="10.60" lengthAdjust="spacingAndGlyphs"  stroke="#231815" stroke-width="0.19">G3</text>
<circle cx="672.00" cy="1728.90" r="2.20" fill="#fff" stroke="#231815" stroke-width="0.9"/>
<line x1="674.60" y1="1728.90" x2="688.30" y2="1728.90" stroke="#6b6b6b" stroke-width="1.1" />
<text x="653.00" y="1726.90" font-size="10" fill="#231815" font-weight="normal" text-anchor="start" textLength="15.00" lengthAdjust="spacingAndGlyphs"  stroke="#231815" stroke-width="0.19">GL3</text>
<text x="374.50" y="1888.50" font-size="14.5" fill="#231815" font-weight="normal" text-anchor="start" textLength="231.00" lengthAdjust="spacingAndGlyphs"  stroke="#231815" stroke-width="0.22">2个单向可控硅反并联（2和3短接）</text>
</svg>
</body></html>
